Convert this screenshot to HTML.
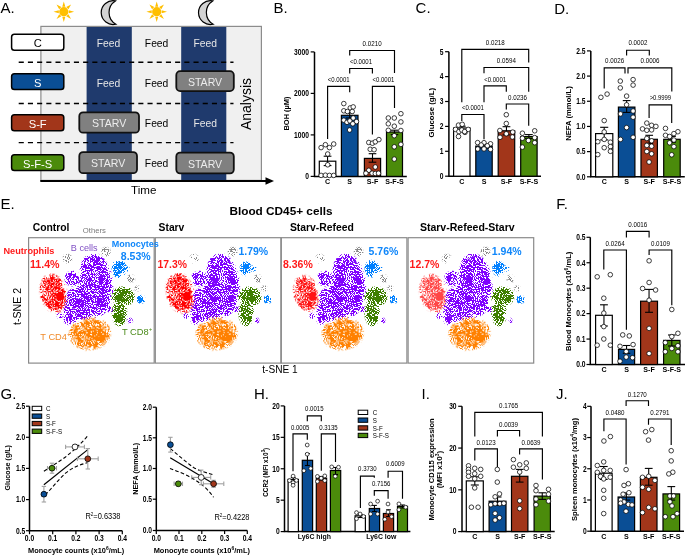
<!DOCTYPE html>
<html><head><meta charset="utf-8"><title>Figure</title>
<style>html,body{margin:0;padding:0;background:#fff;}svg{display:block;will-change:transform;}text{font-family:"Liberation Sans", sans-serif;}</style>
</head><body>
<svg width="685" height="555" viewBox="0 0 685 555" font-family='"Liberation Sans", sans-serif'>
<rect width="685" height="555" fill="#fff"/>
<text x="0.5" y="13.4" font-size="15">A.</text>
<g fill="#ffbf00">
<circle cx="63.8" cy="11.7" r="4.6"/>
<path d="M62.26 6.73L63.8 1.4L65.34 6.73ZM66.23 7.1L71.08 4.42L68.4 9.27ZM68.77 10.16L74.1 11.7L68.77 13.24ZM68.4 14.13L71.08 18.98L66.23 16.3ZM65.34 16.67L63.8 22L62.26 16.67ZM61.37 16.3L56.52 18.98L59.2 14.13ZM58.83 13.24L53.5 11.7L58.83 10.16ZM59.2 9.27L56.52 4.42L61.37 7.1Z"/>
</g>
<g fill="#ffbf00">
<circle cx="156.7" cy="11.7" r="4.6"/>
<path d="M155.16 6.73L156.7 1.4L158.24 6.73ZM159.13 7.1L163.98 4.42L161.3 9.27ZM161.67 10.16L167 11.7L161.67 13.24ZM161.3 14.13L163.98 18.98L159.13 16.3ZM158.24 16.67L156.7 22L155.16 16.67ZM154.27 16.3L149.42 18.98L152.1 14.13ZM151.73 13.24L146.4 11.7L151.73 10.16ZM152.1 9.27L149.42 4.42L154.27 7.1Z"/>
</g>
<path d="M115.4 0.9A11.92 11.92 0 1 0 115.9 24.2A13.6 13.6 0 0 1 115.4 0.9Z" fill="#d2d2d2" stroke="#000" stroke-width="1.2" stroke-linejoin="miter" stroke-miterlimit="3"/>
<path d="M212.7 0.9A11.92 11.92 0 1 0 213.2 24.2A13.6 13.6 0 0 1 212.7 0.9Z" fill="#d2d2d2" stroke="#000" stroke-width="1.2" stroke-linejoin="miter" stroke-miterlimit="3"/>
<rect x="40.9" y="26.4" width="220.5" height="154" fill="#f0f0f0" stroke="#8c8c8c" stroke-width="1.2"/>
<rect x="86.6" y="27" width="45.2" height="153" fill="#1f3a6d"/>
<rect x="181.2" y="27" width="45.1" height="153" fill="#1f3a6d"/>
<line x1="18.7" y1="62.3" x2="233.5" y2="62.3" stroke="#000" stroke-width="1.4" stroke-dasharray="5.1 4.1"/>
<line x1="18.7" y1="103.5" x2="233.5" y2="103.5" stroke="#000" stroke-width="1.4" stroke-dasharray="5.1 4.1"/>
<line x1="18.7" y1="142.6" x2="233.5" y2="142.6" stroke="#000" stroke-width="1.4" stroke-dasharray="5.1 4.1"/>
<rect x="11.6" y="34.3" width="52.2" height="15.9" fill="#fff" rx="2.8" stroke="#000" stroke-width="1.5"/>
<text x="37.7" y="47.15" font-size="11.2" text-anchor="middle">C</text>
<rect x="11.6" y="73.7" width="52.2" height="15.8" fill="#0a4e95" rx="2.8" stroke="#000" stroke-width="1.5"/>
<text x="37.7" y="86.5" font-size="11.2" text-anchor="middle" fill="#fff">S</text>
<rect x="11.6" y="114.7" width="52.2" height="16" fill="#a2361a" rx="2.8" stroke="#000" stroke-width="1.5"/>
<text x="37.7" y="127.6" font-size="11.2" text-anchor="middle" fill="#fff">S-F</text>
<rect x="11.6" y="154.8" width="52.2" height="15.7" fill="#4b8b0b" rx="2.8" stroke="#000" stroke-width="1.5"/>
<text x="37.7" y="167.55" font-size="11.2" text-anchor="middle" fill="#fff">S-F-S</text>
<rect x="176.3" y="71.2" width="57.5" height="19.9" fill="#808080" rx="3.8" stroke="#111" stroke-width="1.8"/>
<text x="205.05" y="85.75" font-size="11" text-anchor="middle" fill="#ececec" textLength="34.3" lengthAdjust="spacingAndGlyphs">STARV</text>
<rect x="79.3" y="112.3" width="59.7" height="20.4" fill="#808080" rx="3.8" stroke="#111" stroke-width="1.8"/>
<text x="109.15" y="127.1" font-size="11" text-anchor="middle" fill="#ececec" textLength="34.3" lengthAdjust="spacingAndGlyphs">STARV</text>
<rect x="79.3" y="152.1" width="57.7" height="21.1" fill="#808080" rx="3.8" stroke="#111" stroke-width="1.8"/>
<text x="108.15" y="167.25" font-size="11" text-anchor="middle" fill="#ececec" textLength="34.3" lengthAdjust="spacingAndGlyphs">STARV</text>
<rect x="176.3" y="152.6" width="57.5" height="20.8" fill="#808080" rx="3.8" stroke="#111" stroke-width="1.8"/>
<text x="205.05" y="167.6" font-size="11" text-anchor="middle" fill="#ececec" textLength="34.3" lengthAdjust="spacingAndGlyphs">STARV</text>
<text x="108.4" y="47.3" font-size="10.3" text-anchor="middle" fill="#e6e6e6">Feed</text>
<text x="156.6" y="47.3" font-size="10.3" text-anchor="middle">Feed</text>
<text x="205.3" y="46.8" font-size="10.3" text-anchor="middle" fill="#e6e6e6">Feed</text>
<text x="108.4" y="87.2" font-size="10.3" text-anchor="middle" fill="#e6e6e6">Feed</text>
<text x="156.6" y="87.2" font-size="10.3" text-anchor="middle">Feed</text>
<text x="156.6" y="127" font-size="10.3" text-anchor="middle">Feed</text>
<text x="205.3" y="126.5" font-size="10.3" text-anchor="middle" fill="#e6e6e6">Feed</text>
<text x="156.6" y="167.3" font-size="10.3" text-anchor="middle">Feed</text>
<text x="251.2" y="104" font-size="14" text-anchor="middle" transform="rotate(-90 251.2 104)">Analysis</text>
<line x1="40.3" y1="181" x2="266.5" y2="181" stroke="#000" stroke-width="2"/>
<path d="M265.5 177.3L274 181L265.5 184.7Z" fill="#000" stroke="none" stroke-width="1"/>
<text x="143.7" y="193.6" font-size="11.6" text-anchor="middle" textLength="25.4" lengthAdjust="spacingAndGlyphs">Time</text>
<text x="273.6" y="13.2" font-size="15">B.</text>
<path d="M314.5 51.9V176.4H406.8" fill="none" stroke="#000" stroke-width="1.5" stroke-linejoin="miter"/>
<line x1="310.7" y1="176.4" x2="314.5" y2="176.4" stroke="#000" stroke-width="1.2"/>
<text x="308.9" y="179.2" font-size="8.3" text-anchor="end" font-weight="bold" textLength="3.73" lengthAdjust="spacingAndGlyphs">0</text>
<line x1="310.7" y1="134.9" x2="314.5" y2="134.9" stroke="#000" stroke-width="1.2"/>
<text x="308.9" y="137.7" font-size="8.3" text-anchor="end" font-weight="bold" textLength="14.91" lengthAdjust="spacingAndGlyphs">1000</text>
<line x1="310.7" y1="93.4" x2="314.5" y2="93.4" stroke="#000" stroke-width="1.2"/>
<text x="308.9" y="96.2" font-size="8.3" text-anchor="end" font-weight="bold" textLength="14.91" lengthAdjust="spacingAndGlyphs">2000</text>
<line x1="310.7" y1="51.9" x2="314.5" y2="51.9" stroke="#000" stroke-width="1.2"/>
<text x="308.9" y="54.7" font-size="8.3" text-anchor="end" font-weight="bold" textLength="14.91" lengthAdjust="spacingAndGlyphs">3000</text>
<rect x="319.3" y="161.2" width="16.5" height="15.2" fill="#fff" stroke="#000" stroke-width="1.2"/>
<line x1="327.55" y1="156.2" x2="327.55" y2="165.6" stroke="#000" stroke-width="1.1"/>
<line x1="323.67" y1="156.2" x2="331.43" y2="156.2" stroke="#000" stroke-width="1.1"/>
<line x1="323.67" y1="165.6" x2="331.43" y2="165.6" stroke="#000" stroke-width="1.1"/>
<g fill="#fff" stroke="#000" stroke-width="0.75">
<circle cx="321.1" cy="147.6" r="2.3"/>
<circle cx="325.4" cy="144.7" r="2.3"/>
<circle cx="329.4" cy="147.6" r="2.3"/>
<circle cx="333.7" cy="144" r="2.3"/>
<circle cx="327.7" cy="154" r="2.3"/>
<circle cx="327.7" cy="164.8" r="2.3"/>
<circle cx="321.1" cy="175.4" r="2.3"/>
<circle cx="325.4" cy="175.2" r="2.3"/>
<circle cx="329.4" cy="175.4" r="2.3"/>
<circle cx="333.7" cy="175.4" r="2.3"/>
</g>
<text x="327.55" y="183.7" font-size="7.1" text-anchor="middle" font-weight="bold">C</text>
<rect x="341.4" y="115.3" width="16.6" height="61.1" fill="#0a4e95" stroke="#000" stroke-width="1.2"/>
<line x1="349.7" y1="112.7" x2="349.7" y2="118" stroke="#000" stroke-width="1.1"/>
<line x1="345.8" y1="112.7" x2="353.6" y2="112.7" stroke="#000" stroke-width="1.1"/>
<line x1="345.8" y1="118" x2="353.6" y2="118" stroke="#000" stroke-width="1.1"/>
<g fill="#fff" stroke="#000" stroke-width="0.75">
<circle cx="343.8" cy="103.6" r="2.3"/>
<circle cx="350.3" cy="107.9" r="2.3"/>
<circle cx="353.2" cy="106.9" r="2.3"/>
<circle cx="343.8" cy="110.8" r="2.3"/>
<circle cx="347.4" cy="111.5" r="2.3"/>
<circle cx="352.2" cy="111.5" r="2.3"/>
<circle cx="343.8" cy="120.2" r="2.3"/>
<circle cx="347" cy="122.3" r="2.3"/>
<circle cx="349.9" cy="120.9" r="2.3"/>
<circle cx="353.2" cy="118" r="2.3"/>
<circle cx="356.5" cy="121.6" r="2.3"/>
<circle cx="352.8" cy="123.8" r="2.3"/>
<circle cx="349.6" cy="130" r="2.3"/>
</g>
<text x="349.7" y="183.7" font-size="7.1" text-anchor="middle" font-weight="bold">S</text>
<rect x="364.4" y="158.4" width="16.2" height="18" fill="#a2361a" stroke="#000" stroke-width="1.2"/>
<line x1="372.5" y1="153.7" x2="372.5" y2="162.2" stroke="#000" stroke-width="1.1"/>
<line x1="368.69" y1="153.7" x2="376.31" y2="153.7" stroke="#000" stroke-width="1.1"/>
<line x1="368.69" y1="162.2" x2="376.31" y2="162.2" stroke="#000" stroke-width="1.1"/>
<g fill="#fff" stroke="#000" stroke-width="0.75">
<circle cx="368.8" cy="142.5" r="2.3"/>
<circle cx="372.4" cy="143.2" r="2.3"/>
<circle cx="375.3" cy="141.8" r="2.3"/>
<circle cx="378.9" cy="139.6" r="2.3"/>
<circle cx="370.2" cy="149.3" r="2.3"/>
<circle cx="374.1" cy="149.7" r="2.3"/>
<circle cx="375.3" cy="167" r="2.3"/>
<circle cx="368.8" cy="170.3" r="2.3"/>
<circle cx="365.9" cy="173.2" r="2.3"/>
<circle cx="372.1" cy="173.2" r="2.3"/>
<circle cx="375.3" cy="173.5" r="2.3"/>
<circle cx="378.5" cy="173.2" r="2.3"/>
</g>
<text x="372.5" y="183.7" font-size="7.1" text-anchor="middle" font-weight="bold">S-F</text>
<rect x="386.5" y="132" width="16" height="44.4" fill="#4b8b0b" stroke="#000" stroke-width="1.2"/>
<line x1="394.5" y1="130.2" x2="394.5" y2="134.6" stroke="#000" stroke-width="1.1"/>
<line x1="390.74" y1="130.2" x2="398.26" y2="130.2" stroke="#000" stroke-width="1.1"/>
<line x1="390.74" y1="134.6" x2="398.26" y2="134.6" stroke="#000" stroke-width="1.1"/>
<g fill="#fff" stroke="#000" stroke-width="0.75">
<circle cx="400.9" cy="113.7" r="2.3"/>
<circle cx="388.3" cy="118" r="2.3"/>
<circle cx="394.3" cy="118" r="2.3"/>
<circle cx="400.9" cy="121.9" r="2.3"/>
<circle cx="388.3" cy="123.8" r="2.3"/>
<circle cx="394.3" cy="126.2" r="2.3"/>
<circle cx="388.3" cy="130.3" r="2.3"/>
<circle cx="400.9" cy="130.5" r="2.3"/>
<circle cx="394.3" cy="135.7" r="2.3"/>
<circle cx="400.9" cy="144.4" r="2.3"/>
<circle cx="394.3" cy="146.8" r="2.3"/>
<circle cx="394.3" cy="159.1" r="2.3"/>
</g>
<text x="394.5" y="183.7" font-size="7.1" text-anchor="middle" font-weight="bold">S-F-S</text>
<text x="289" y="113.5" font-size="7.5" text-anchor="middle" font-weight="bold" textLength="34" lengthAdjust="spacingAndGlyphs" transform="rotate(-90 289 113.5)">BOH (µM)</text>
<path d="M327.6 138.9V86.4H349.7V92.2" fill="none" stroke="#000" stroke-width="1.15" stroke-linejoin="miter"/>
<text x="338.65" y="82" font-size="7.1" text-anchor="middle" textLength="21.9" lengthAdjust="spacingAndGlyphs">&lt;0.0001</text>
<path d="M349.7 73.4V68.5H372.4V73.4" fill="none" stroke="#000" stroke-width="1.15" stroke-linejoin="miter"/>
<text x="361.05" y="63.8" font-size="7.1" text-anchor="middle" textLength="21.9" lengthAdjust="spacingAndGlyphs">&lt;0.0001</text>
<path d="M349.7 55.4V50.5H394.5V72.9" fill="none" stroke="#000" stroke-width="1.15" stroke-linejoin="miter"/>
<text x="372.1" y="45.6" font-size="7.1" text-anchor="middle" textLength="19" lengthAdjust="spacingAndGlyphs">0.0210</text>
<path d="M372.4 134.6V86.4H394.5V107.9" fill="none" stroke="#000" stroke-width="1.15" stroke-linejoin="miter"/>
<text x="383.45" y="82" font-size="7.1" text-anchor="middle" textLength="21.9" lengthAdjust="spacingAndGlyphs">&lt;0.0001</text>
<text x="415.6" y="13.4" font-size="15">C.</text>
<path d="M448.9 51.7V176.2H541" fill="none" stroke="#000" stroke-width="1.5" stroke-linejoin="miter"/>
<line x1="445.1" y1="176.2" x2="448.9" y2="176.2" stroke="#000" stroke-width="1.2"/>
<text x="443.6" y="179" font-size="8.3" text-anchor="end" font-weight="bold" textLength="3.73" lengthAdjust="spacingAndGlyphs">0</text>
<line x1="445.1" y1="151.3" x2="448.9" y2="151.3" stroke="#000" stroke-width="1.2"/>
<text x="443.6" y="154.1" font-size="8.3" text-anchor="end" font-weight="bold" textLength="3.73" lengthAdjust="spacingAndGlyphs">1</text>
<line x1="445.1" y1="126.4" x2="448.9" y2="126.4" stroke="#000" stroke-width="1.2"/>
<text x="443.6" y="129.2" font-size="8.3" text-anchor="end" font-weight="bold" textLength="3.73" lengthAdjust="spacingAndGlyphs">2</text>
<line x1="445.1" y1="101.5" x2="448.9" y2="101.5" stroke="#000" stroke-width="1.2"/>
<text x="443.6" y="104.3" font-size="8.3" text-anchor="end" font-weight="bold" textLength="3.73" lengthAdjust="spacingAndGlyphs">3</text>
<line x1="445.1" y1="76.6" x2="448.9" y2="76.6" stroke="#000" stroke-width="1.2"/>
<text x="443.6" y="79.4" font-size="8.3" text-anchor="end" font-weight="bold" textLength="3.73" lengthAdjust="spacingAndGlyphs">4</text>
<line x1="445.1" y1="51.7" x2="448.9" y2="51.7" stroke="#000" stroke-width="1.2"/>
<text x="443.6" y="54.5" font-size="8.3" text-anchor="end" font-weight="bold" textLength="3.73" lengthAdjust="spacingAndGlyphs">5</text>
<rect x="453.6" y="128" width="16.4" height="48.2" fill="#fff" stroke="#000" stroke-width="1.2"/>
<line x1="461.8" y1="126.2" x2="461.8" y2="130" stroke="#000" stroke-width="1.1"/>
<line x1="457.95" y1="126.2" x2="465.65" y2="126.2" stroke="#000" stroke-width="1.1"/>
<line x1="457.95" y1="130" x2="465.65" y2="130" stroke="#000" stroke-width="1.1"/>
<g fill="#fff" stroke="#000" stroke-width="0.75">
<circle cx="458.5" cy="125.1" r="2.3"/>
<circle cx="462.2" cy="124.3" r="2.3"/>
<circle cx="455.5" cy="129.4" r="2.3"/>
<circle cx="458.9" cy="131.6" r="2.3"/>
<circle cx="461.8" cy="130" r="2.3"/>
<circle cx="465" cy="132.4" r="2.3"/>
<circle cx="468.2" cy="129.4" r="2.3"/>
<circle cx="458.5" cy="136.5" r="2.3"/>
<circle cx="464.6" cy="131.6" r="2.3"/>
</g>
<text x="461.8" y="183.5" font-size="7.1" text-anchor="middle" font-weight="bold">C</text>
<rect x="475.8" y="146.1" width="16.4" height="30.1" fill="#0a4e95" stroke="#000" stroke-width="1.2"/>
<line x1="484" y1="144.3" x2="484" y2="148" stroke="#000" stroke-width="1.1"/>
<line x1="480.15" y1="144.3" x2="487.85" y2="144.3" stroke="#000" stroke-width="1.1"/>
<line x1="480.15" y1="148" x2="487.85" y2="148" stroke="#000" stroke-width="1.1"/>
<g fill="#fff" stroke="#000" stroke-width="0.75">
<circle cx="477.6" cy="142.6" r="2.3"/>
<circle cx="484" cy="142.7" r="2.3"/>
<circle cx="490.5" cy="143.8" r="2.3"/>
<circle cx="481.2" cy="145" r="2.3"/>
<circle cx="487.3" cy="145.8" r="2.3"/>
<circle cx="477.7" cy="149" r="2.3"/>
<circle cx="484" cy="148.9" r="2.3"/>
<circle cx="490.5" cy="149.4" r="2.3"/>
</g>
<text x="484" y="183.5" font-size="7.1" text-anchor="middle" font-weight="bold">S</text>
<rect x="498.2" y="130.8" width="16.5" height="45.4" fill="#a2361a" stroke="#000" stroke-width="1.2"/>
<line x1="506.45" y1="126.7" x2="506.45" y2="134.9" stroke="#000" stroke-width="1.1"/>
<line x1="502.57" y1="126.7" x2="510.33" y2="126.7" stroke="#000" stroke-width="1.1"/>
<line x1="502.57" y1="134.9" x2="510.33" y2="134.9" stroke="#000" stroke-width="1.1"/>
<g fill="#fff" stroke="#000" stroke-width="0.75">
<circle cx="506.3" cy="114.7" r="2.3"/>
<circle cx="506.3" cy="123.5" r="2.3"/>
<circle cx="499.9" cy="130.5" r="2.3"/>
<circle cx="506.3" cy="133.8" r="2.3"/>
<circle cx="512.7" cy="132.1" r="2.3"/>
<circle cx="500" cy="137.3" r="2.3"/>
<circle cx="512.4" cy="137" r="2.3"/>
</g>
<text x="506.45" y="183.5" font-size="7.1" text-anchor="middle" font-weight="bold">S-F</text>
<rect x="520.7" y="136.6" width="16.4" height="39.6" fill="#4b8b0b" stroke="#000" stroke-width="1.2"/>
<line x1="528.9" y1="134.6" x2="528.9" y2="138.6" stroke="#000" stroke-width="1.1"/>
<line x1="525.05" y1="134.6" x2="532.75" y2="134.6" stroke="#000" stroke-width="1.1"/>
<line x1="525.05" y1="138.6" x2="532.75" y2="138.6" stroke="#000" stroke-width="1.1"/>
<g fill="#fff" stroke="#000" stroke-width="0.75">
<circle cx="534.7" cy="130.8" r="2.3"/>
<circle cx="522.4" cy="133.2" r="2.3"/>
<circle cx="522.4" cy="138.2" r="2.3"/>
<circle cx="534.7" cy="137.6" r="2.3"/>
<circle cx="528.4" cy="140.5" r="2.3"/>
<circle cx="534.7" cy="142.7" r="2.3"/>
<circle cx="522.4" cy="147.1" r="2.3"/>
</g>
<text x="528.9" y="183.5" font-size="7.1" text-anchor="middle" font-weight="bold">S-F-S</text>
<text x="434" y="112.7" font-size="7.5" text-anchor="middle" font-weight="bold" textLength="49.5" lengthAdjust="spacingAndGlyphs" transform="rotate(-90 434 112.7)">Glucose (g/L)</text>
<path d="M461.8 102.2V49.3H528.7V62.4" fill="none" stroke="#000" stroke-width="1.15" stroke-linejoin="miter"/>
<text x="495.25" y="45.2" font-size="7.1" text-anchor="middle" textLength="19" lengthAdjust="spacingAndGlyphs">0.0218</text>
<path d="M484 73.3V67.5H528.7V91.7" fill="none" stroke="#000" stroke-width="1.15" stroke-linejoin="miter"/>
<text x="506.35" y="63.4" font-size="7.1" text-anchor="middle" textLength="19" lengthAdjust="spacingAndGlyphs">0.0594</text>
<path d="M484 102.2V85.9H506.3V91.7" fill="none" stroke="#000" stroke-width="1.15" stroke-linejoin="miter"/>
<text x="495.15" y="81.6" font-size="7.1" text-anchor="middle" textLength="21.9" lengthAdjust="spacingAndGlyphs">&lt;0.0001</text>
<path d="M506.3 109.5V104H528.7V125.7" fill="none" stroke="#000" stroke-width="1.15" stroke-linejoin="miter"/>
<text x="517.5" y="99.6" font-size="7.1" text-anchor="middle" textLength="19" lengthAdjust="spacingAndGlyphs">0.0236</text>
<path d="M461.8 121V114.5H484V139.3" fill="none" stroke="#000" stroke-width="1.15" stroke-linejoin="miter"/>
<text x="472.9" y="110.4" font-size="7.1" text-anchor="middle" textLength="21.9" lengthAdjust="spacingAndGlyphs">&lt;0.0001</text>
<text x="554.2" y="13.5" font-size="15">D.</text>
<path d="M590.8 50.9V176.8H684.8" fill="none" stroke="#000" stroke-width="1.5" stroke-linejoin="miter"/>
<line x1="587" y1="176.8" x2="590.8" y2="176.8" stroke="#000" stroke-width="1.2"/>
<text x="585.6" y="179.6" font-size="8.3" text-anchor="end" font-weight="bold" textLength="9.31" lengthAdjust="spacingAndGlyphs">0.0</text>
<line x1="587" y1="151.62" x2="590.8" y2="151.62" stroke="#000" stroke-width="1.2"/>
<text x="585.6" y="154.42" font-size="8.3" text-anchor="end" font-weight="bold" textLength="9.31" lengthAdjust="spacingAndGlyphs">0.5</text>
<line x1="587" y1="126.44" x2="590.8" y2="126.44" stroke="#000" stroke-width="1.2"/>
<text x="585.6" y="129.24" font-size="8.3" text-anchor="end" font-weight="bold" textLength="9.31" lengthAdjust="spacingAndGlyphs">1.0</text>
<line x1="587" y1="101.26" x2="590.8" y2="101.26" stroke="#000" stroke-width="1.2"/>
<text x="585.6" y="104.06" font-size="8.3" text-anchor="end" font-weight="bold" textLength="9.31" lengthAdjust="spacingAndGlyphs">1.5</text>
<line x1="587" y1="76.08" x2="590.8" y2="76.08" stroke="#000" stroke-width="1.2"/>
<text x="585.6" y="78.88" font-size="8.3" text-anchor="end" font-weight="bold" textLength="9.31" lengthAdjust="spacingAndGlyphs">2.0</text>
<line x1="587" y1="50.9" x2="590.8" y2="50.9" stroke="#000" stroke-width="1.2"/>
<text x="585.6" y="53.7" font-size="8.3" text-anchor="end" font-weight="bold" textLength="9.31" lengthAdjust="spacingAndGlyphs">2.5</text>
<rect x="595.6" y="133.6" width="17.2" height="43.2" fill="#fff" stroke="#000" stroke-width="1.2"/>
<line x1="604.2" y1="127.3" x2="604.2" y2="139.9" stroke="#000" stroke-width="1.1"/>
<line x1="600.16" y1="127.3" x2="608.24" y2="127.3" stroke="#000" stroke-width="1.1"/>
<line x1="600.16" y1="139.9" x2="608.24" y2="139.9" stroke="#000" stroke-width="1.1"/>
<g fill="#fff" stroke="#000" stroke-width="0.75">
<circle cx="600.9" cy="97.3" r="2.3"/>
<circle cx="607.1" cy="94.1" r="2.3"/>
<circle cx="604.2" cy="120.6" r="2.3"/>
<circle cx="604.2" cy="131.9" r="2.3"/>
<circle cx="597.8" cy="141.7" r="2.3"/>
<circle cx="604.2" cy="139.4" r="2.3"/>
<circle cx="610.4" cy="142.2" r="2.3"/>
<circle cx="604.2" cy="147.7" r="2.3"/>
<circle cx="610.4" cy="146.6" r="2.3"/>
<circle cx="610.4" cy="151.3" r="2.3"/>
<circle cx="597.8" cy="154.6" r="2.3"/>
</g>
<text x="604.2" y="183.7" font-size="7.1" text-anchor="middle" font-weight="bold">C</text>
<rect x="618.4" y="107.1" width="16.5" height="69.7" fill="#0a4e95" stroke="#000" stroke-width="1.2"/>
<line x1="626.65" y1="100.6" x2="626.65" y2="112.4" stroke="#000" stroke-width="1.1"/>
<line x1="622.77" y1="100.6" x2="630.53" y2="100.6" stroke="#000" stroke-width="1.1"/>
<line x1="622.77" y1="112.4" x2="630.53" y2="112.4" stroke="#000" stroke-width="1.1"/>
<g fill="#fff" stroke="#000" stroke-width="0.75">
<circle cx="620.3" cy="81.1" r="2.3"/>
<circle cx="620.3" cy="87.9" r="2.3"/>
<circle cx="633.1" cy="79.6" r="2.3"/>
<circle cx="633.1" cy="85.1" r="2.3"/>
<circle cx="626.6" cy="96.1" r="2.3"/>
<circle cx="626.6" cy="104.8" r="2.3"/>
<circle cx="633.1" cy="111" r="2.3"/>
<circle cx="620.5" cy="113.9" r="2.3"/>
<circle cx="633.1" cy="117.2" r="2.3"/>
<circle cx="626.6" cy="127.6" r="2.3"/>
<circle cx="620.5" cy="139.4" r="2.3"/>
<circle cx="633.1" cy="137.3" r="2.3"/>
</g>
<text x="626.65" y="183.7" font-size="7.1" text-anchor="middle" font-weight="bold">S</text>
<rect x="641" y="139.3" width="16.4" height="37.5" fill="#a2361a" stroke="#000" stroke-width="1.2"/>
<line x1="649.2" y1="135.3" x2="649.2" y2="143.3" stroke="#000" stroke-width="1.1"/>
<line x1="645.35" y1="135.3" x2="653.05" y2="135.3" stroke="#000" stroke-width="1.1"/>
<line x1="645.35" y1="143.3" x2="653.05" y2="143.3" stroke="#000" stroke-width="1.1"/>
<g fill="#fff" stroke="#000" stroke-width="0.75">
<circle cx="646.8" cy="123.1" r="2.3"/>
<circle cx="651.6" cy="125.3" r="2.3"/>
<circle cx="655.9" cy="126.4" r="2.3"/>
<circle cx="642.5" cy="128.9" r="2.3"/>
<circle cx="646.8" cy="130.3" r="2.3"/>
<circle cx="651.6" cy="129.9" r="2.3"/>
<circle cx="646.8" cy="138.5" r="2.3"/>
<circle cx="651.6" cy="140.8" r="2.3"/>
<circle cx="646.8" cy="145.4" r="2.3"/>
<circle cx="651.6" cy="146.2" r="2.3"/>
<circle cx="646.8" cy="151.5" r="2.3"/>
<circle cx="651.6" cy="153.8" r="2.3"/>
<circle cx="649.1" cy="162" r="2.3"/>
</g>
<text x="649.2" y="183.7" font-size="7.1" text-anchor="middle" font-weight="bold">S-F</text>
<rect x="663.7" y="139.3" width="16.5" height="37.5" fill="#4b8b0b" stroke="#000" stroke-width="1.2"/>
<line x1="671.95" y1="136.4" x2="671.95" y2="142.2" stroke="#000" stroke-width="1.1"/>
<line x1="668.07" y1="136.4" x2="675.83" y2="136.4" stroke="#000" stroke-width="1.1"/>
<line x1="668.07" y1="142.2" x2="675.83" y2="142.2" stroke="#000" stroke-width="1.1"/>
<g fill="#fff" stroke="#000" stroke-width="0.75">
<circle cx="665.5" cy="128.4" r="2.3"/>
<circle cx="677.9" cy="131.7" r="2.3"/>
<circle cx="673.9" cy="133.6" r="2.3"/>
<circle cx="665.5" cy="135.3" r="2.3"/>
<circle cx="669.6" cy="136.5" r="2.3"/>
<circle cx="673.9" cy="140" r="2.3"/>
<circle cx="669.6" cy="142.8" r="2.3"/>
<circle cx="673.9" cy="146.6" r="2.3"/>
<circle cx="671.7" cy="154.8" r="2.3"/>
</g>
<text x="671.95" y="183.7" font-size="7.1" text-anchor="middle" font-weight="bold">S-F-S</text>
<text x="571.2" y="113.5" font-size="7.5" text-anchor="middle" font-weight="bold" textLength="54.7" lengthAdjust="spacingAndGlyphs" transform="rotate(-90 571.2 113.5)">NEFA (mmol/L)</text>
<path d="M626.6 55.4V50.2H649.3V55.4" fill="none" stroke="#000" stroke-width="1.15" stroke-linejoin="miter"/>
<text x="637.95" y="45.3" font-size="7.1" text-anchor="middle" textLength="19" lengthAdjust="spacingAndGlyphs">0.0002</text>
<path d="M604.2 88.6V67.9H625V73.5" fill="none" stroke="#000" stroke-width="1.15" stroke-linejoin="miter"/>
<text x="614.6" y="63.4" font-size="7.1" text-anchor="middle" textLength="19" lengthAdjust="spacingAndGlyphs">0.0026</text>
<path d="M628 73.5V67.9H671.8V91.6" fill="none" stroke="#000" stroke-width="1.15" stroke-linejoin="miter"/>
<text x="650" y="63.4" font-size="7.1" text-anchor="middle" textLength="19" lengthAdjust="spacingAndGlyphs">0.0006</text>
<path d="M649.1 118V104.8H671.7V123.1" fill="none" stroke="#000" stroke-width="1.15" stroke-linejoin="miter"/>
<text x="660.4" y="99.8" font-size="7.1" text-anchor="middle" textLength="21.5" lengthAdjust="spacingAndGlyphs">&gt;0.9999</text>
<text x="0.5" y="208.8" font-size="15">E.</text>
<text x="281" y="214.8" font-size="10.6" text-anchor="middle" font-weight="bold" textLength="103.2" lengthAdjust="spacingAndGlyphs">Blood CD45+ cells</text>
<text x="32.7" y="231.3" font-size="10.3" font-weight="bold" textLength="36.8" lengthAdjust="spacingAndGlyphs">Control</text>
<text x="158.6" y="231.3" font-size="10.3" font-weight="bold">Starv</text>
<text x="289.9" y="231.3" font-size="10.3" font-weight="bold" textLength="64" lengthAdjust="spacingAndGlyphs">Starv-Refeed</text>
<text x="419.9" y="231.3" font-size="10.3" font-weight="bold" textLength="94.8" lengthAdjust="spacingAndGlyphs">Starv-Refeed-Starv</text>
<text x="82.8" y="233" font-size="7.4" fill="#7a7a7a" textLength="23.1" lengthAdjust="spacingAndGlyphs">Others</text>
<rect x="28.6" y="237.7" width="125.6" height="125.4" fill="none" stroke="#8a8a8a" stroke-width="1.2"/>
<rect x="155.3" y="237.7" width="125.6" height="125.4" fill="none" stroke="#8a8a8a" stroke-width="1.2"/>
<rect x="281.3" y="237.7" width="125.6" height="125.4" fill="none" stroke="#8a8a8a" stroke-width="1.2"/>
<rect x="408.1" y="237.7" width="125.6" height="125.4" fill="none" stroke="#8a8a8a" stroke-width="1.2"/>
<text x="21.4" y="306.4" font-size="10.4" text-anchor="middle" textLength="37" lengthAdjust="spacingAndGlyphs" transform="rotate(-90 21.4 306.4)">t-SNE 2</text>
<text x="280" y="373" font-size="10.4" text-anchor="middle" textLength="35.5" lengthAdjust="spacingAndGlyphs">t-SNE 1</text>
<defs>
<filter id="fr" x="-30%" y="-30%" width="160%" height="160%" color-interpolation-filters="sRGB"><feGaussianBlur in="SourceAlpha" stdDeviation="1.4" result="b"/><feTurbulence type="fractalNoise" baseFrequency="0.95" numOctaves="1" seed="7" result="n1"/><feColorMatrix in="n1" type="matrix" values="0 0 0 0 0 0 0 0 0 0 0 0 0 0 0 1 0 0 0 0" result="a1"/><feTurbulence type="fractalNoise" baseFrequency="0.14" numOctaves="2" seed="42" result="n2"/><feColorMatrix in="n2" type="matrix" values="0 0 0 0 0 0 0 0 0 0 0 0 0 0 0 1 0 0 0 0" result="a2"/><feComposite in="a1" in2="a2" operator="arithmetic" k2="2.4" k3="0.6" k4="-1.35" result="na"/><feComposite in="b" in2="na" operator="arithmetic" k2="0.37" k3="-1" result="d"/><feComponentTransfer in="d" result="m"><feFuncA type="linear" slope="30"/></feComponentTransfer><feFlood flood-color="#ff0000"/><feComposite in2="m" operator="in"/></filter>
<filter id="fp" x="-30%" y="-30%" width="160%" height="160%" color-interpolation-filters="sRGB"><feGaussianBlur in="SourceAlpha" stdDeviation="1.1" result="b"/><feTurbulence type="fractalNoise" baseFrequency="0.95" numOctaves="1" seed="5" result="n1"/><feColorMatrix in="n1" type="matrix" values="0 0 0 0 0 0 0 0 0 0 0 0 0 0 0 1 0 0 0 0" result="a1"/><feTurbulence type="fractalNoise" baseFrequency="0.14" numOctaves="2" seed="40" result="n2"/><feColorMatrix in="n2" type="matrix" values="0 0 0 0 0 0 0 0 0 0 0 0 0 0 0 1 0 0 0 0" result="a2"/><feComposite in="a1" in2="a2" operator="arithmetic" k2="2.4" k3="0.6" k4="-1.35" result="na"/><feComposite in="b" in2="na" operator="arithmetic" k2="0.31" k3="-1" result="d"/><feComponentTransfer in="d" result="m"><feFuncA type="linear" slope="30"/></feComponentTransfer><feFlood flood-color="#7f00ff"/><feComposite in2="m" operator="in"/></filter>
<filter id="fo" x="-30%" y="-30%" width="160%" height="160%" color-interpolation-filters="sRGB"><feGaussianBlur in="SourceAlpha" stdDeviation="1.4" result="b"/><feTurbulence type="fractalNoise" baseFrequency="0.95" numOctaves="1" seed="4" result="n1"/><feColorMatrix in="n1" type="matrix" values="0 0 0 0 0 0 0 0 0 0 0 0 0 0 0 1 0 0 0 0" result="a1"/><feTurbulence type="fractalNoise" baseFrequency="0.14" numOctaves="2" seed="46" result="n2"/><feColorMatrix in="n2" type="matrix" values="0 0 0 0 0 0 0 0 0 0 0 0 0 0 0 1 0 0 0 0" result="a2"/><feComposite in="a1" in2="a2" operator="arithmetic" k2="2.4" k3="0.6" k4="-1.35" result="na"/><feComposite in="b" in2="na" operator="arithmetic" k2="0.36" k3="-1" result="d"/><feComponentTransfer in="d" result="m"><feFuncA type="linear" slope="30"/></feComponentTransfer><feFlood flood-color="#ff8000"/><feComposite in2="m" operator="in"/></filter>
<filter id="fg" x="-30%" y="-30%" width="160%" height="160%" color-interpolation-filters="sRGB"><feGaussianBlur in="SourceAlpha" stdDeviation="1.3" result="b"/><feTurbulence type="fractalNoise" baseFrequency="0.95" numOctaves="1" seed="7" result="n1"/><feColorMatrix in="n1" type="matrix" values="0 0 0 0 0 0 0 0 0 0 0 0 0 0 0 1 0 0 0 0" result="a1"/><feTurbulence type="fractalNoise" baseFrequency="0.14" numOctaves="2" seed="45" result="n2"/><feColorMatrix in="n2" type="matrix" values="0 0 0 0 0 0 0 0 0 0 0 0 0 0 0 1 0 0 0 0" result="a2"/><feComposite in="a1" in2="a2" operator="arithmetic" k2="2.4" k3="0.6" k4="-1.35" result="na"/><feComposite in="b" in2="na" operator="arithmetic" k2="0.34" k3="-1" result="d"/><feComponentTransfer in="d" result="m"><feFuncA type="linear" slope="30"/></feComponentTransfer><feFlood flood-color="#3f7f00"/><feComposite in2="m" operator="in"/></filter>
<filter id="fb" x="-30%" y="-30%" width="160%" height="160%" color-interpolation-filters="sRGB"><feGaussianBlur in="SourceAlpha" stdDeviation="1.3" result="b"/><feTurbulence type="fractalNoise" baseFrequency="0.95" numOctaves="1" seed="13" result="n1"/><feColorMatrix in="n1" type="matrix" values="0 0 0 0 0 0 0 0 0 0 0 0 0 0 0 1 0 0 0 0" result="a1"/><feTurbulence type="fractalNoise" baseFrequency="0.14" numOctaves="2" seed="40" result="n2"/><feColorMatrix in="n2" type="matrix" values="0 0 0 0 0 0 0 0 0 0 0 0 0 0 0 1 0 0 0 0" result="a2"/><feComposite in="a1" in2="a2" operator="arithmetic" k2="2.4" k3="0.6" k4="-1.35" result="na"/><feComposite in="b" in2="na" operator="arithmetic" k2="0.35" k3="-1" result="d"/><feComponentTransfer in="d" result="m"><feFuncA type="linear" slope="30"/></feComponentTransfer><feFlood flood-color="#0080ff"/><feComposite in2="m" operator="in"/></filter>
<filter id="fk" x="-30%" y="-30%" width="160%" height="160%" color-interpolation-filters="sRGB"><feGaussianBlur in="SourceAlpha" stdDeviation="1.2" result="b"/><feTurbulence type="fractalNoise" baseFrequency="0.95" numOctaves="1" seed="11" result="n1"/><feColorMatrix in="n1" type="matrix" values="0 0 0 0 0 0 0 0 0 0 0 0 0 0 0 1 0 0 0 0" result="a1"/><feTurbulence type="fractalNoise" baseFrequency="0.14" numOctaves="2" seed="42" result="n2"/><feColorMatrix in="n2" type="matrix" values="0 0 0 0 0 0 0 0 0 0 0 0 0 0 0 1 0 0 0 0" result="a2"/><feComposite in="a1" in2="a2" operator="arithmetic" k2="2.4" k3="0.6" k4="-1.35" result="na"/><feComposite in="b" in2="na" operator="arithmetic" k2="0.2" k3="-1" result="d"/><feComponentTransfer in="d" result="m"><feFuncA type="linear" slope="30"/></feComponentTransfer><feFlood flood-color="#8a8a8a"/><feComposite in2="m" operator="in"/></filter>
<linearGradient id="gd" x1="0" y1="0" x2="1" y2="1"><stop offset="0" stop-color="#000" stop-opacity="0.8"/><stop offset="0.55" stop-color="#000" stop-opacity="0.95"/><stop offset="1" stop-color="#000" stop-opacity="1"/></linearGradient>
</defs>
<g transform="translate(0 0)">
<ellipse cx="53.6" cy="293.3" rx="11.2" ry="17.6" fill="url(#gd)" filter="url(#fr)" opacity="1" transform="rotate(-14 53.6 293.3)"/>
<g filter="url(#fp)"><path d="M91.6 254.9C94.07 254.37 96.85 255.07 99.3 256.8C101.75 258.53 104.38 261.67 106.3 265.3C108.22 268.93 110.02 273.67 110.8 278.6C111.58 283.53 111.72 289.93 111 294.9C110.28 299.87 108.6 305.03 106.5 308.4C104.4 311.77 102 313.53 98.4 315.1C94.8 316.67 88.97 316.9 84.9 317.8C80.83 318.7 76.93 319.6 74 320.5C71.07 321.4 68.73 323.87 67.3 323.2C65.87 322.53 65.53 319.87 65.4 316.5C65.27 313.13 65.73 307.08 66.5 303C67.27 298.92 67.67 294.83 70 292C72.33 289.17 78.67 289.33 80.5 286C82.33 282.67 80.33 276.33 81 272C81.67 267.67 82.73 262.85 84.5 260C86.27 257.15 89.13 255.43 91.6 254.9Z" fill="url(#gd)"/>
<circle cx="72.4" cy="278.6" r="6.2"/><circle cx="59.7" cy="315.8" r="1.5"/><circle cx="67.3" cy="320.2" r="1.8"/><circle cx="110.2" cy="309.2" r="1.6"/><circle cx="130" cy="320.5" r="1.3"/></g>
<ellipse cx="90" cy="333.8" rx="18.6" ry="14.2" filter="url(#fo)" transform="rotate(-6 90 333.8)"/>
<g filter="url(#fg)"><ellipse cx="123.2" cy="296.5" rx="10" ry="8.3"/><ellipse cx="119.5" cy="313" rx="6" ry="11.5"/></g>
<g filter="url(#fb)"><ellipse cx="119" cy="268.6" rx="5.6" ry="7.6"/><circle cx="126.5" cy="268.5" r="1.6"/><circle cx="141" cy="299.3" r="2.6"/></g>
<g filter="url(#fk)"><circle cx="67.3" cy="258.7" r="3.2"/><circle cx="106" cy="251.8" r="3.2"/><circle cx="131" cy="278.4" r="2.5"/><circle cx="137.6" cy="288.3" r="1.6"/></g>
</g>
<g transform="translate(126.7 0)">
<ellipse cx="53.6" cy="293.3" rx="11.76" ry="18.48" fill="url(#gd)" filter="url(#fr)" opacity="1" transform="rotate(-14 53.6 293.3)"/>
<g filter="url(#fp)"><path d="M91.6 254.9C94.07 254.37 96.85 255.07 99.3 256.8C101.75 258.53 104.38 261.67 106.3 265.3C108.22 268.93 110.02 273.67 110.8 278.6C111.58 283.53 111.72 289.93 111 294.9C110.28 299.87 108.6 305.03 106.5 308.4C104.4 311.77 102 313.53 98.4 315.1C94.8 316.67 88.97 316.9 84.9 317.8C80.83 318.7 76.93 319.6 74 320.5C71.07 321.4 68.73 323.87 67.3 323.2C65.87 322.53 65.53 319.87 65.4 316.5C65.27 313.13 65.73 307.08 66.5 303C67.27 298.92 67.67 294.83 70 292C72.33 289.17 78.67 289.33 80.5 286C82.33 282.67 80.33 276.33 81 272C81.67 267.67 82.73 262.85 84.5 260C86.27 257.15 89.13 255.43 91.6 254.9Z" fill="url(#gd)"/>
<circle cx="72.4" cy="278.6" r="6.2"/><circle cx="59.7" cy="315.8" r="1.5"/><circle cx="67.3" cy="320.2" r="1.8"/><circle cx="110.2" cy="309.2" r="1.6"/><circle cx="130" cy="320.5" r="1.3"/></g>
<ellipse cx="90" cy="333.8" rx="18.6" ry="14.2" filter="url(#fo)" transform="rotate(-6 90 333.8)"/>
<g filter="url(#fg)"><ellipse cx="123.2" cy="296.5" rx="10" ry="8.3"/><ellipse cx="119.5" cy="313" rx="6" ry="11.5"/></g>
<g filter="url(#fb)"><ellipse cx="119" cy="268.6" rx="4.2" ry="5.7"/><circle cx="126.5" cy="268.5" r="1.6"/><circle cx="141" cy="299.3" r="2.6"/></g>
<g filter="url(#fk)"><circle cx="67.3" cy="258.7" r="3.2"/><circle cx="106" cy="251.8" r="3.2"/><circle cx="131" cy="278.4" r="2.5"/><circle cx="137.6" cy="288.3" r="1.6"/></g>
</g>
<g transform="translate(252.7 0)">
<ellipse cx="53.6" cy="293.3" rx="10.3" ry="16.19" fill="url(#gd)" filter="url(#fr)" opacity="0.92" transform="rotate(-14 53.6 293.3)"/>
<g filter="url(#fp)"><path d="M91.6 254.9C94.07 254.37 96.85 255.07 99.3 256.8C101.75 258.53 104.38 261.67 106.3 265.3C108.22 268.93 110.02 273.67 110.8 278.6C111.58 283.53 111.72 289.93 111 294.9C110.28 299.87 108.6 305.03 106.5 308.4C104.4 311.77 102 313.53 98.4 315.1C94.8 316.67 88.97 316.9 84.9 317.8C80.83 318.7 76.93 319.6 74 320.5C71.07 321.4 68.73 323.87 67.3 323.2C65.87 322.53 65.53 319.87 65.4 316.5C65.27 313.13 65.73 307.08 66.5 303C67.27 298.92 67.67 294.83 70 292C72.33 289.17 78.67 289.33 80.5 286C82.33 282.67 80.33 276.33 81 272C81.67 267.67 82.73 262.85 84.5 260C86.27 257.15 89.13 255.43 91.6 254.9Z" fill="url(#gd)"/>
<circle cx="72.4" cy="278.6" r="6.2"/><circle cx="59.7" cy="315.8" r="1.5"/><circle cx="67.3" cy="320.2" r="1.8"/><circle cx="110.2" cy="309.2" r="1.6"/><circle cx="130" cy="320.5" r="1.3"/></g>
<ellipse cx="90" cy="333.8" rx="18.6" ry="14.2" filter="url(#fo)" transform="rotate(-6 90 333.8)"/>
<g filter="url(#fg)"><ellipse cx="123.2" cy="296.5" rx="10" ry="8.3"/><ellipse cx="119.5" cy="313" rx="6" ry="11.5"/></g>
<g filter="url(#fb)"><ellipse cx="119" cy="268.6" rx="5.32" ry="7.22"/><circle cx="126.5" cy="268.5" r="1.6"/><circle cx="141" cy="299.3" r="2.6"/></g>
<g filter="url(#fk)"><circle cx="67.3" cy="258.7" r="3.2"/><circle cx="106" cy="251.8" r="3.2"/><circle cx="131" cy="278.4" r="2.5"/><circle cx="137.6" cy="288.3" r="1.6"/></g>
</g>
<g transform="translate(379.5 0)">
<ellipse cx="53.6" cy="293.3" rx="11.2" ry="17.6" fill="url(#gd)" filter="url(#fr)" opacity="0.72" transform="rotate(-14 53.6 293.3)"/>
<g filter="url(#fp)"><path d="M91.6 254.9C94.07 254.37 96.85 255.07 99.3 256.8C101.75 258.53 104.38 261.67 106.3 265.3C108.22 268.93 110.02 273.67 110.8 278.6C111.58 283.53 111.72 289.93 111 294.9C110.28 299.87 108.6 305.03 106.5 308.4C104.4 311.77 102 313.53 98.4 315.1C94.8 316.67 88.97 316.9 84.9 317.8C80.83 318.7 76.93 319.6 74 320.5C71.07 321.4 68.73 323.87 67.3 323.2C65.87 322.53 65.53 319.87 65.4 316.5C65.27 313.13 65.73 307.08 66.5 303C67.27 298.92 67.67 294.83 70 292C72.33 289.17 78.67 289.33 80.5 286C82.33 282.67 80.33 276.33 81 272C81.67 267.67 82.73 262.85 84.5 260C86.27 257.15 89.13 255.43 91.6 254.9Z" fill="url(#gd)"/>
<circle cx="72.4" cy="278.6" r="6.2"/><circle cx="59.7" cy="315.8" r="1.5"/><circle cx="67.3" cy="320.2" r="1.8"/><circle cx="110.2" cy="309.2" r="1.6"/><circle cx="130" cy="320.5" r="1.3"/></g>
<ellipse cx="90" cy="333.8" rx="18.6" ry="14.2" filter="url(#fo)" transform="rotate(-6 90 333.8)"/>
<g filter="url(#fg)"><ellipse cx="123.2" cy="296.5" rx="10" ry="8.3"/><ellipse cx="119.5" cy="313" rx="6" ry="11.5"/></g>
<g filter="url(#fb)"><ellipse cx="119" cy="268.6" rx="4.48" ry="6.08"/><circle cx="126.5" cy="268.5" r="1.6"/><circle cx="141" cy="299.3" r="2.6"/></g>
<g filter="url(#fk)"><circle cx="67.3" cy="258.7" r="3.2"/><circle cx="106" cy="251.8" r="3.2"/><circle cx="131" cy="278.4" r="2.5"/><circle cx="137.6" cy="288.3" r="1.6"/></g>
</g>
<text x="3.5" y="254.4" font-size="9" font-weight="bold" fill="#ff1a1a" textLength="50.9" lengthAdjust="spacingAndGlyphs">Neutrophils</text>
<text x="29.9" y="268" font-size="10.5" font-weight="bold" fill="#ff1a1a" textLength="29.7" lengthAdjust="spacingAndGlyphs">11.4%</text>
<text x="70.8" y="250.9" font-size="9.3" fill="#8050c4" textLength="26.8" lengthAdjust="spacingAndGlyphs">B cells</text>
<text x="111.7" y="247.4" font-size="9" font-weight="bold" fill="#0f86fa" textLength="47.1" lengthAdjust="spacingAndGlyphs">Monocytes</text>
<text x="120.8" y="259.5" font-size="10.5" font-weight="bold" fill="#0f86fa" textLength="29.9" lengthAdjust="spacingAndGlyphs">8.53%</text>
<text x="40.3" y="339.5" font-size="9.3" fill="#f08a2a">T CD4<tspan font-size="6" dy="-4">+</tspan></text>
<text x="122" y="334.9" font-size="9.3" fill="#4b8b1b">T CD8<tspan font-size="6" dy="-4">+</tspan></text>
<text x="157.5" y="268.4" font-size="10.5" font-weight="bold" fill="#ff1a1a" textLength="29.5" lengthAdjust="spacingAndGlyphs">17.3%</text>
<text x="238.4" y="255.3" font-size="10.5" font-weight="bold" fill="#0f86fa" textLength="29.8" lengthAdjust="spacingAndGlyphs">1.79%</text>
<text x="283" y="268" font-size="10.5" font-weight="bold" fill="#ff1a1a" textLength="29.8" lengthAdjust="spacingAndGlyphs">8.36%</text>
<text x="368.6" y="255" font-size="10.5" font-weight="bold" fill="#0f86fa" textLength="29.8" lengthAdjust="spacingAndGlyphs">5.76%</text>
<text x="409.6" y="268" font-size="10.5" font-weight="bold" fill="#ff1a1a" textLength="29.8" lengthAdjust="spacingAndGlyphs">12.7%</text>
<text x="491.8" y="255" font-size="10.5" font-weight="bold" fill="#0f86fa" textLength="29.8" lengthAdjust="spacingAndGlyphs">1.94%</text>
<text x="556.3" y="208.6" font-size="15">F.</text>
<path d="M590.3 237.3V364.5H685" fill="none" stroke="#000" stroke-width="1.5" stroke-linejoin="miter"/>
<line x1="586.5" y1="364.5" x2="590.3" y2="364.5" stroke="#000" stroke-width="1.2"/>
<text x="585.6" y="367.3" font-size="8.3" text-anchor="end" font-weight="bold" textLength="9.31" lengthAdjust="spacingAndGlyphs">0.0</text>
<line x1="586.5" y1="339.06" x2="590.3" y2="339.06" stroke="#000" stroke-width="1.2"/>
<text x="585.6" y="341.86" font-size="8.3" text-anchor="end" font-weight="bold" textLength="9.31" lengthAdjust="spacingAndGlyphs">0.1</text>
<line x1="586.5" y1="313.62" x2="590.3" y2="313.62" stroke="#000" stroke-width="1.2"/>
<text x="585.6" y="316.42" font-size="8.3" text-anchor="end" font-weight="bold" textLength="9.31" lengthAdjust="spacingAndGlyphs">0.2</text>
<line x1="586.5" y1="288.18" x2="590.3" y2="288.18" stroke="#000" stroke-width="1.2"/>
<text x="585.6" y="290.98" font-size="8.3" text-anchor="end" font-weight="bold" textLength="9.31" lengthAdjust="spacingAndGlyphs">0.3</text>
<line x1="586.5" y1="262.74" x2="590.3" y2="262.74" stroke="#000" stroke-width="1.2"/>
<text x="585.6" y="265.54" font-size="8.3" text-anchor="end" font-weight="bold" textLength="9.31" lengthAdjust="spacingAndGlyphs">0.4</text>
<line x1="586.5" y1="237.3" x2="590.3" y2="237.3" stroke="#000" stroke-width="1.2"/>
<text x="585.6" y="240.1" font-size="8.3" text-anchor="end" font-weight="bold" textLength="9.31" lengthAdjust="spacingAndGlyphs">0.5</text>
<rect x="595.6" y="315.3" width="16.7" height="49.2" fill="#fff" stroke="#000" stroke-width="1.2"/>
<line x1="603.95" y1="304.8" x2="603.95" y2="326" stroke="#000" stroke-width="1.1"/>
<line x1="600.03" y1="304.8" x2="607.87" y2="304.8" stroke="#000" stroke-width="1.1"/>
<line x1="600.03" y1="326" x2="607.87" y2="326" stroke="#000" stroke-width="1.1"/>
<g fill="#fff" stroke="#000" stroke-width="0.75">
<circle cx="597.2" cy="276.8" r="2.3"/>
<circle cx="610.3" cy="274.7" r="2.3"/>
<circle cx="603.8" cy="298.2" r="2.3"/>
<circle cx="603.8" cy="313.1" r="2.3"/>
<circle cx="603.8" cy="326.6" r="2.3"/>
<circle cx="603.8" cy="339" r="2.3"/>
<circle cx="597.2" cy="345.2" r="2.3"/>
<circle cx="610.3" cy="345.2" r="2.3"/>
</g>
<text x="603.95" y="371.6" font-size="7.1" text-anchor="middle" font-weight="bold">C</text>
<rect x="618.5" y="349.4" width="16.1" height="15.1" fill="#0a4e95" stroke="#000" stroke-width="1.2"/>
<line x1="626.55" y1="345.5" x2="626.55" y2="353.3" stroke="#000" stroke-width="1.1"/>
<line x1="622.77" y1="345.5" x2="630.33" y2="345.5" stroke="#000" stroke-width="1.1"/>
<line x1="622.77" y1="353.3" x2="630.33" y2="353.3" stroke="#000" stroke-width="1.1"/>
<g fill="#fff" stroke="#000" stroke-width="0.75">
<circle cx="622.7" cy="334.9" r="2.3"/>
<circle cx="629.3" cy="335.9" r="2.3"/>
<circle cx="620" cy="346.3" r="2.3"/>
<circle cx="633.1" cy="344.6" r="2.3"/>
<circle cx="626.2" cy="351.5" r="2.3"/>
<circle cx="626.2" cy="357.1" r="2.3"/>
<circle cx="620" cy="361.2" r="2.3"/>
<circle cx="632.5" cy="357.7" r="2.3"/>
</g>
<text x="626.55" y="371.6" font-size="7.1" text-anchor="middle" font-weight="bold">S</text>
<rect x="640.6" y="301.2" width="16.9" height="63.3" fill="#a2361a" stroke="#000" stroke-width="1.2"/>
<line x1="649.05" y1="289.4" x2="649.05" y2="312.3" stroke="#000" stroke-width="1.1"/>
<line x1="645.08" y1="289.4" x2="653.02" y2="289.4" stroke="#000" stroke-width="1.1"/>
<line x1="645.08" y1="312.3" x2="653.02" y2="312.3" stroke="#000" stroke-width="1.1"/>
<g fill="#fff" stroke="#000" stroke-width="0.75">
<circle cx="649.1" cy="260.8" r="2.3"/>
<circle cx="649.1" cy="282.5" r="2.3"/>
<circle cx="642.6" cy="288.5" r="2.3"/>
<circle cx="655.6" cy="290" r="2.3"/>
<circle cx="649.1" cy="300.2" r="2.3"/>
<circle cx="649.1" cy="328.4" r="2.3"/>
<circle cx="649.1" cy="353.5" r="2.3"/>
</g>
<text x="649.05" y="371.6" font-size="7.1" text-anchor="middle" font-weight="bold">S-F</text>
<rect x="663.6" y="340.4" width="16.4" height="24.1" fill="#4b8b0b" stroke="#000" stroke-width="1.2"/>
<line x1="671.8" y1="335" x2="671.8" y2="346" stroke="#000" stroke-width="1.1"/>
<line x1="667.95" y1="335" x2="675.65" y2="335" stroke="#000" stroke-width="1.1"/>
<line x1="667.95" y1="346" x2="675.65" y2="346" stroke="#000" stroke-width="1.1"/>
<g fill="#fff" stroke="#000" stroke-width="0.75">
<circle cx="671.8" cy="309.5" r="2.3"/>
<circle cx="677.9" cy="333.3" r="2.3"/>
<circle cx="671.8" cy="336.6" r="2.3"/>
<circle cx="665.3" cy="342.6" r="2.3"/>
<circle cx="677.9" cy="345.7" r="2.3"/>
<circle cx="671.8" cy="348.5" r="2.3"/>
<circle cx="665.3" cy="351.7" r="2.3"/>
<circle cx="677.9" cy="351.7" r="2.3"/>
</g>
<text x="671.8" y="371.6" font-size="7.1" text-anchor="middle" font-weight="bold">S-F-S</text>
<text x="571.2" y="301.3" font-size="7.5" text-anchor="middle" font-weight="bold" textLength="99.4" lengthAdjust="spacingAndGlyphs" transform="rotate(-90 571.2 301.3)">Blood Monocytes (x10<tspan font-size="5" dy="-3">6</tspan><tspan dy="3">/mL)</tspan></text>
<path d="M626.4 237.5V231.4H649.1V237.5" fill="none" stroke="#000" stroke-width="1.15" stroke-linejoin="miter"/>
<text x="637.75" y="227.3" font-size="7.1" text-anchor="middle" textLength="19" lengthAdjust="spacingAndGlyphs">0.0016</text>
<path d="M603.8 269.5V250H626.4V329.7" fill="none" stroke="#000" stroke-width="1.15" stroke-linejoin="miter"/>
<text x="615.1" y="245.5" font-size="7.1" text-anchor="middle" textLength="19" lengthAdjust="spacingAndGlyphs">0.0264</text>
<path d="M649.1 255V250H671.8V305.2" fill="none" stroke="#000" stroke-width="1.15" stroke-linejoin="miter"/>
<text x="660.45" y="245.5" font-size="7.1" text-anchor="middle" textLength="19" lengthAdjust="spacingAndGlyphs">0.0109</text>
<text x="0.5" y="398.8" font-size="15">G.</text>
<path d="M29.5 406.2V530.7H122.3" fill="none" stroke="#000" stroke-width="1.5" stroke-linejoin="miter"/>
<line x1="26" y1="530.7" x2="29.5" y2="530.7" stroke="#000" stroke-width="1.2"/>
<text x="25.2" y="533.5" font-size="8.3" text-anchor="end" font-weight="bold" textLength="9.31" lengthAdjust="spacingAndGlyphs">0.5</text>
<line x1="26" y1="499.6" x2="29.5" y2="499.6" stroke="#000" stroke-width="1.2"/>
<text x="25.2" y="502.4" font-size="8.3" text-anchor="end" font-weight="bold" textLength="9.31" lengthAdjust="spacingAndGlyphs">1.0</text>
<line x1="26" y1="468.4" x2="29.5" y2="468.4" stroke="#000" stroke-width="1.2"/>
<text x="25.2" y="471.2" font-size="8.3" text-anchor="end" font-weight="bold" textLength="9.31" lengthAdjust="spacingAndGlyphs">1.5</text>
<line x1="26" y1="437.3" x2="29.5" y2="437.3" stroke="#000" stroke-width="1.2"/>
<text x="25.2" y="440.1" font-size="8.3" text-anchor="end" font-weight="bold" textLength="9.31" lengthAdjust="spacingAndGlyphs">2.0</text>
<line x1="26" y1="406.2" x2="29.5" y2="406.2" stroke="#000" stroke-width="1.2"/>
<text x="25.2" y="409" font-size="8.3" text-anchor="end" font-weight="bold" textLength="9.31" lengthAdjust="spacingAndGlyphs">2.5</text>
<line x1="29.5" y1="530.7" x2="29.5" y2="534.2" stroke="#000" stroke-width="1.2"/>
<text x="29.5" y="541" font-size="8.3" text-anchor="middle" font-weight="bold" textLength="9.31" lengthAdjust="spacingAndGlyphs">0.0</text>
<line x1="52.7" y1="530.7" x2="52.7" y2="534.2" stroke="#000" stroke-width="1.2"/>
<text x="52.7" y="541" font-size="8.3" text-anchor="middle" font-weight="bold" textLength="9.31" lengthAdjust="spacingAndGlyphs">0.1</text>
<line x1="75.9" y1="530.7" x2="75.9" y2="534.2" stroke="#000" stroke-width="1.2"/>
<text x="75.9" y="541" font-size="8.3" text-anchor="middle" font-weight="bold" textLength="9.31" lengthAdjust="spacingAndGlyphs">0.2</text>
<line x1="99.1" y1="530.7" x2="99.1" y2="534.2" stroke="#000" stroke-width="1.2"/>
<text x="99.1" y="541" font-size="8.3" text-anchor="middle" font-weight="bold" textLength="9.31" lengthAdjust="spacingAndGlyphs">0.3</text>
<line x1="122.3" y1="530.7" x2="122.3" y2="534.2" stroke="#000" stroke-width="1.2"/>
<text x="122.3" y="541" font-size="8.3" text-anchor="middle" font-weight="bold" textLength="9.31" lengthAdjust="spacingAndGlyphs">0.4</text>
<rect x="32.2" y="406.3" width="9.5" height="4.3" fill="#fff" stroke="#000" stroke-width="1"/>
<text x="45.9" y="411" font-size="7.6" textLength="4.48" lengthAdjust="spacingAndGlyphs">C</text>
<rect x="32.2" y="414" width="9.5" height="4.3" fill="#0a4e95" stroke="#000" stroke-width="1"/>
<text x="45.9" y="418.7" font-size="7.6" textLength="4.14" lengthAdjust="spacingAndGlyphs">S</text>
<rect x="32.2" y="421.4" width="9.5" height="4.3" fill="#a2361a" stroke="#000" stroke-width="1"/>
<text x="45.9" y="426.1" font-size="7.6" textLength="9.99" lengthAdjust="spacingAndGlyphs">S-F</text>
<rect x="32.2" y="429.1" width="9.5" height="4.3" fill="#4b8b0b" stroke="#000" stroke-width="1"/>
<text x="45.9" y="433.8" font-size="7.6" textLength="16.19" lengthAdjust="spacingAndGlyphs">S-F-S</text>
<text x="10.3" y="467.8" font-size="8" text-anchor="middle" font-weight="bold" textLength="45.5" lengthAdjust="spacingAndGlyphs" transform="rotate(-90 10.3 467.8)">Glucose (g/L)</text>
<text x="76.2" y="553" font-size="7.5" text-anchor="middle" font-weight="bold" textLength="96.2" lengthAdjust="spacingAndGlyphs">Monocyte counts (x10<tspan font-size="5" dy="-3">6</tspan><tspan dy="3">/mL)</tspan></text>
<text x="85.4" y="519.3" font-size="8.2" textLength="35.1" lengthAdjust="spacingAndGlyphs">R<tspan font-size="5" dy="-3">2</tspan><tspan dy="3">=0.6338</tspan></text>
<line x1="43.9" y1="484.7" x2="87.8" y2="449.6" stroke="#000" stroke-width="1.2"/>
<path d="M43.9 471.2C52 466 60 461 65.5 457C74 450 81 444 87.8 435.7" fill="none" stroke="#000" stroke-width="1.1" stroke-dasharray="3.6 2.2"/>
<path d="M45.3 494.9C52 488 59 479 65.5 473.2C73 467 80 465 87.8 462.4" fill="none" stroke="#000" stroke-width="1.1" stroke-dasharray="3.6 2.2"/>
<g stroke="#a0a0a0" stroke-width="1.1">
<line x1="65.6" y1="446.9" x2="84.4" y2="446.9" stroke="#a0a0a0" stroke-width="1.1"/>
<line x1="65.6" y1="444.7" x2="65.6" y2="449.1" stroke="#a0a0a0" stroke-width="1.1"/>
<line x1="84.4" y1="444.7" x2="84.4" y2="449.1" stroke="#a0a0a0" stroke-width="1.1"/>
<line x1="75" y1="444.5" x2="75" y2="449.3" stroke="#a0a0a0" stroke-width="1.1"/>
<line x1="72.8" y1="444.5" x2="77.2" y2="444.5" stroke="#a0a0a0" stroke-width="1.1"/>
<line x1="72.8" y1="449.3" x2="77.2" y2="449.3" stroke="#a0a0a0" stroke-width="1.1"/>
</g>
<circle cx="75" cy="446.9" r="2.9" fill="#fff" stroke="#000" stroke-width="0.8"/>
<g stroke="#a0a0a0" stroke-width="1.1">
<line x1="77.4" y1="458.8" x2="98.2" y2="458.8" stroke="#a0a0a0" stroke-width="1.1"/>
<line x1="77.4" y1="456.6" x2="77.4" y2="461" stroke="#a0a0a0" stroke-width="1.1"/>
<line x1="98.2" y1="456.6" x2="98.2" y2="461" stroke="#a0a0a0" stroke-width="1.1"/>
<line x1="87.8" y1="448.6" x2="87.8" y2="469" stroke="#a0a0a0" stroke-width="1.1"/>
<line x1="85.6" y1="448.6" x2="90" y2="448.6" stroke="#a0a0a0" stroke-width="1.1"/>
<line x1="85.6" y1="469" x2="90" y2="469" stroke="#a0a0a0" stroke-width="1.1"/>
</g>
<circle cx="87.8" cy="458.8" r="2.9" fill="#a2361a" stroke="#000" stroke-width="0.8"/>
<g stroke="#a0a0a0" stroke-width="1.1">
<line x1="47.5" y1="468.2" x2="56.5" y2="468.2" stroke="#a0a0a0" stroke-width="1.1"/>
<line x1="47.5" y1="466" x2="47.5" y2="470.4" stroke="#a0a0a0" stroke-width="1.1"/>
<line x1="56.5" y1="466" x2="56.5" y2="470.4" stroke="#a0a0a0" stroke-width="1.1"/>
<line x1="52" y1="463.2" x2="52" y2="473.2" stroke="#a0a0a0" stroke-width="1.1"/>
<line x1="49.8" y1="463.2" x2="54.2" y2="463.2" stroke="#a0a0a0" stroke-width="1.1"/>
<line x1="49.8" y1="473.2" x2="54.2" y2="473.2" stroke="#a0a0a0" stroke-width="1.1"/>
</g>
<circle cx="52" cy="468.2" r="2.9" fill="#4b8b0b" stroke="#000" stroke-width="0.8"/>
<g stroke="#a0a0a0" stroke-width="1.1">
<line x1="41.7" y1="494.2" x2="46.1" y2="494.2" stroke="#a0a0a0" stroke-width="1.1"/>
<line x1="41.7" y1="492" x2="41.7" y2="496.4" stroke="#a0a0a0" stroke-width="1.1"/>
<line x1="46.1" y1="492" x2="46.1" y2="496.4" stroke="#a0a0a0" stroke-width="1.1"/>
<line x1="43.9" y1="486.4" x2="43.9" y2="502" stroke="#a0a0a0" stroke-width="1.1"/>
<line x1="41.7" y1="486.4" x2="46.1" y2="486.4" stroke="#a0a0a0" stroke-width="1.1"/>
<line x1="41.7" y1="502" x2="46.1" y2="502" stroke="#a0a0a0" stroke-width="1.1"/>
</g>
<circle cx="43.9" cy="494.2" r="2.9" fill="#0a4e95" stroke="#000" stroke-width="0.8"/>
<path d="M156.3 407.2V530.5H247.3" fill="none" stroke="#000" stroke-width="1.5" stroke-linejoin="miter"/>
<line x1="152.8" y1="530.5" x2="156.3" y2="530.5" stroke="#000" stroke-width="1.2"/>
<text x="152" y="533.3" font-size="8.3" text-anchor="end" font-weight="bold" textLength="9.31" lengthAdjust="spacingAndGlyphs">0.0</text>
<line x1="152.8" y1="499.2" x2="156.3" y2="499.2" stroke="#000" stroke-width="1.2"/>
<text x="152" y="502" font-size="8.3" text-anchor="end" font-weight="bold" textLength="9.31" lengthAdjust="spacingAndGlyphs">0.5</text>
<line x1="152.8" y1="468.5" x2="156.3" y2="468.5" stroke="#000" stroke-width="1.2"/>
<text x="152" y="471.3" font-size="8.3" text-anchor="end" font-weight="bold" textLength="9.31" lengthAdjust="spacingAndGlyphs">1.0</text>
<line x1="152.8" y1="437.8" x2="156.3" y2="437.8" stroke="#000" stroke-width="1.2"/>
<text x="152" y="440.6" font-size="8.3" text-anchor="end" font-weight="bold" textLength="9.31" lengthAdjust="spacingAndGlyphs">1.5</text>
<line x1="152.8" y1="407.2" x2="156.3" y2="407.2" stroke="#000" stroke-width="1.2"/>
<text x="152" y="410" font-size="8.3" text-anchor="end" font-weight="bold" textLength="9.31" lengthAdjust="spacingAndGlyphs">2.0</text>
<line x1="156.3" y1="530.5" x2="156.3" y2="534" stroke="#000" stroke-width="1.2"/>
<text x="156.3" y="540.8" font-size="8.3" text-anchor="middle" font-weight="bold" textLength="9.31" lengthAdjust="spacingAndGlyphs">0.0</text>
<line x1="179" y1="530.5" x2="179" y2="534" stroke="#000" stroke-width="1.2"/>
<text x="179" y="540.8" font-size="8.3" text-anchor="middle" font-weight="bold" textLength="9.31" lengthAdjust="spacingAndGlyphs">0.1</text>
<line x1="201.8" y1="530.5" x2="201.8" y2="534" stroke="#000" stroke-width="1.2"/>
<text x="201.8" y="540.8" font-size="8.3" text-anchor="middle" font-weight="bold" textLength="9.31" lengthAdjust="spacingAndGlyphs">0.2</text>
<line x1="224.6" y1="530.5" x2="224.6" y2="534" stroke="#000" stroke-width="1.2"/>
<text x="224.6" y="540.8" font-size="8.3" text-anchor="middle" font-weight="bold" textLength="9.31" lengthAdjust="spacingAndGlyphs">0.3</text>
<line x1="247.3" y1="530.5" x2="247.3" y2="534" stroke="#000" stroke-width="1.2"/>
<text x="247.3" y="540.8" font-size="8.3" text-anchor="middle" font-weight="bold" textLength="9.31" lengthAdjust="spacingAndGlyphs">0.4</text>
<text x="137.6" y="468.8" font-size="8" text-anchor="middle" font-weight="bold" textLength="52" lengthAdjust="spacingAndGlyphs" transform="rotate(-90 137.6 468.8)">NEFA (mmol/L)</text>
<text x="201.8" y="553" font-size="7.5" text-anchor="middle" font-weight="bold" textLength="96.2" lengthAdjust="spacingAndGlyphs">Monocyte counts (x10<tspan font-size="5" dy="-3">6</tspan><tspan dy="3">/mL)</tspan></text>
<text x="214.4" y="519.9" font-size="8.2" textLength="35.1" lengthAdjust="spacingAndGlyphs">R<tspan font-size="5" dy="-3">2</tspan><tspan dy="3">=0.4228</tspan></text>
<line x1="170.2" y1="457.7" x2="213.6" y2="483.8" stroke="#000" stroke-width="1.2"/>
<path d="M170.4 448.6C178 455 186 462 193.5 467.5C200 471 207 473 213.6 474.8" fill="none" stroke="#000" stroke-width="1.1" stroke-dasharray="3.6 2.2"/>
<path d="M170 468.5C180 472 192 477 200.7 483.8C205 487 210 492 213.6 497.3" fill="none" stroke="#000" stroke-width="1.1" stroke-dasharray="3.6 2.2"/>
<g stroke="#a0a0a0" stroke-width="1.1">
<line x1="191.7" y1="477.4" x2="210.7" y2="477.4" stroke="#a0a0a0" stroke-width="1.1"/>
<line x1="191.7" y1="475.2" x2="191.7" y2="479.6" stroke="#a0a0a0" stroke-width="1.1"/>
<line x1="210.7" y1="475.2" x2="210.7" y2="479.6" stroke="#a0a0a0" stroke-width="1.1"/>
<line x1="201.2" y1="470.1" x2="201.2" y2="484.7" stroke="#a0a0a0" stroke-width="1.1"/>
<line x1="199" y1="470.1" x2="203.4" y2="470.1" stroke="#a0a0a0" stroke-width="1.1"/>
<line x1="199" y1="484.7" x2="203.4" y2="484.7" stroke="#a0a0a0" stroke-width="1.1"/>
</g>
<circle cx="201.2" cy="477.4" r="2.9" fill="#fff" stroke="#000" stroke-width="0.8"/>
<g stroke="#a0a0a0" stroke-width="1.1">
<line x1="203.4" y1="483.8" x2="223.8" y2="483.8" stroke="#a0a0a0" stroke-width="1.1"/>
<line x1="203.4" y1="481.6" x2="203.4" y2="486" stroke="#a0a0a0" stroke-width="1.1"/>
<line x1="223.8" y1="481.6" x2="223.8" y2="486" stroke="#a0a0a0" stroke-width="1.1"/>
<line x1="213.6" y1="480.3" x2="213.6" y2="487.3" stroke="#a0a0a0" stroke-width="1.1"/>
<line x1="211.4" y1="480.3" x2="215.8" y2="480.3" stroke="#a0a0a0" stroke-width="1.1"/>
<line x1="211.4" y1="487.3" x2="215.8" y2="487.3" stroke="#a0a0a0" stroke-width="1.1"/>
</g>
<circle cx="213.6" cy="483.8" r="2.9" fill="#a2361a" stroke="#000" stroke-width="0.8"/>
<g stroke="#a0a0a0" stroke-width="1.1">
<line x1="174.1" y1="483.8" x2="182.5" y2="483.8" stroke="#a0a0a0" stroke-width="1.1"/>
<line x1="174.1" y1="481.6" x2="174.1" y2="486" stroke="#a0a0a0" stroke-width="1.1"/>
<line x1="182.5" y1="481.6" x2="182.5" y2="486" stroke="#a0a0a0" stroke-width="1.1"/>
<line x1="178.3" y1="481.8" x2="178.3" y2="485.8" stroke="#a0a0a0" stroke-width="1.1"/>
<line x1="176.1" y1="481.8" x2="180.5" y2="481.8" stroke="#a0a0a0" stroke-width="1.1"/>
<line x1="176.1" y1="485.8" x2="180.5" y2="485.8" stroke="#a0a0a0" stroke-width="1.1"/>
</g>
<circle cx="178.3" cy="483.8" r="2.9" fill="#4b8b0b" stroke="#000" stroke-width="0.8"/>
<g stroke="#a0a0a0" stroke-width="1.1">
<line x1="168.4" y1="444.7" x2="172.4" y2="444.7" stroke="#a0a0a0" stroke-width="1.1"/>
<line x1="168.4" y1="442.5" x2="168.4" y2="446.9" stroke="#a0a0a0" stroke-width="1.1"/>
<line x1="172.4" y1="442.5" x2="172.4" y2="446.9" stroke="#a0a0a0" stroke-width="1.1"/>
<line x1="170.4" y1="437.3" x2="170.4" y2="452.1" stroke="#a0a0a0" stroke-width="1.1"/>
<line x1="168.2" y1="437.3" x2="172.6" y2="437.3" stroke="#a0a0a0" stroke-width="1.1"/>
<line x1="168.2" y1="452.1" x2="172.6" y2="452.1" stroke="#a0a0a0" stroke-width="1.1"/>
</g>
<circle cx="170.4" cy="444.7" r="2.9" fill="#0a4e95" stroke="#000" stroke-width="0.8"/>
<text x="254" y="398.9" font-size="15">H.</text>
<path d="M284.5 405.9V531.6H410.4" fill="none" stroke="#000" stroke-width="1.5" stroke-linejoin="miter"/>
<line x1="280.7" y1="531.6" x2="284.5" y2="531.6" stroke="#000" stroke-width="1.2"/>
<text x="279.8" y="534.4" font-size="8.3" text-anchor="end" font-weight="bold" textLength="3.73" lengthAdjust="spacingAndGlyphs">0</text>
<line x1="280.7" y1="500.18" x2="284.5" y2="500.18" stroke="#000" stroke-width="1.2"/>
<text x="279.8" y="502.98" font-size="8.3" text-anchor="end" font-weight="bold" textLength="3.73" lengthAdjust="spacingAndGlyphs">5</text>
<line x1="280.7" y1="468.76" x2="284.5" y2="468.76" stroke="#000" stroke-width="1.2"/>
<text x="279.8" y="471.56" font-size="8.3" text-anchor="end" font-weight="bold" textLength="7.45" lengthAdjust="spacingAndGlyphs">10</text>
<line x1="280.7" y1="437.34" x2="284.5" y2="437.34" stroke="#000" stroke-width="1.2"/>
<text x="279.8" y="440.14" font-size="8.3" text-anchor="end" font-weight="bold" textLength="7.45" lengthAdjust="spacingAndGlyphs">15</text>
<line x1="280.7" y1="405.92" x2="284.5" y2="405.92" stroke="#000" stroke-width="1.2"/>
<text x="279.8" y="408.72" font-size="8.3" text-anchor="end" font-weight="bold" textLength="7.45" lengthAdjust="spacingAndGlyphs">20</text>
<rect x="288.1" y="479.4" width="10.3" height="52.2" fill="#fff" stroke="#000" stroke-width="1.2"/>
<line x1="293.25" y1="477.5" x2="293.25" y2="481.5" stroke="#000" stroke-width="1.1"/>
<line x1="290.85" y1="477.5" x2="295.65" y2="477.5" stroke="#000" stroke-width="1.1"/>
<line x1="290.85" y1="481.5" x2="295.65" y2="481.5" stroke="#000" stroke-width="1.1"/>
<g fill="#fff" stroke="#000" stroke-width="0.7">
<circle cx="293.1" cy="476.1" r="1.9"/>
<circle cx="289.5" cy="480.6" r="1.9"/>
<circle cx="296.4" cy="480.4" r="1.9"/>
<circle cx="293.1" cy="482.6" r="1.9"/>
<circle cx="293.1" cy="485.3" r="1.9"/>
</g>
<rect x="302.3" y="460.3" width="10.3" height="71.3" fill="#0a4e95" stroke="#000" stroke-width="1.2"/>
<line x1="307.45" y1="453.6" x2="307.45" y2="465.5" stroke="#000" stroke-width="1.1"/>
<line x1="305.05" y1="453.6" x2="309.85" y2="453.6" stroke="#000" stroke-width="1.1"/>
<line x1="305.05" y1="465.5" x2="309.85" y2="465.5" stroke="#000" stroke-width="1.1"/>
<g fill="#fff" stroke="#000" stroke-width="0.7">
<circle cx="307.2" cy="445" r="1.9"/>
<circle cx="307.2" cy="454.2" r="1.9"/>
<circle cx="303.9" cy="470.7" r="1.9"/>
<circle cx="310.7" cy="468.5" r="1.9"/>
</g>
<rect x="316.3" y="478.2" width="10.3" height="53.4" fill="#a2361a" stroke="#000" stroke-width="1.2"/>
<line x1="321.45" y1="476.5" x2="321.45" y2="480" stroke="#000" stroke-width="1.1"/>
<line x1="319.05" y1="476.5" x2="323.85" y2="476.5" stroke="#000" stroke-width="1.1"/>
<line x1="319.05" y1="480" x2="323.85" y2="480" stroke="#000" stroke-width="1.1"/>
<g fill="#fff" stroke="#000" stroke-width="0.7">
<circle cx="317.4" cy="476.4" r="1.9"/>
<circle cx="324.8" cy="475.9" r="1.9"/>
<circle cx="321.2" cy="478.2" r="1.9"/>
<circle cx="317.4" cy="481.5" r="1.9"/>
<circle cx="324.8" cy="480.6" r="1.9"/>
</g>
<rect x="330.4" y="470.5" width="10.3" height="61.1" fill="#4b8b0b" stroke="#000" stroke-width="1.2"/>
<line x1="335.55" y1="467.5" x2="335.55" y2="474.5" stroke="#000" stroke-width="1.1"/>
<line x1="333.15" y1="467.5" x2="337.95" y2="467.5" stroke="#000" stroke-width="1.1"/>
<line x1="333.15" y1="474.5" x2="337.95" y2="474.5" stroke="#000" stroke-width="1.1"/>
<g fill="#fff" stroke="#000" stroke-width="0.7">
<circle cx="331.7" cy="466.9" r="1.9"/>
<circle cx="338.5" cy="467.2" r="1.9"/>
<circle cx="335.3" cy="476.3" r="1.9"/>
</g>
<rect x="355.1" y="515.8" width="10.3" height="15.8" fill="#fff" stroke="#000" stroke-width="1.2"/>
<line x1="360.25" y1="514.5" x2="360.25" y2="517.5" stroke="#000" stroke-width="1.1"/>
<line x1="357.85" y1="514.5" x2="362.65" y2="514.5" stroke="#000" stroke-width="1.1"/>
<line x1="357.85" y1="517.5" x2="362.65" y2="517.5" stroke="#000" stroke-width="1.1"/>
<g fill="#fff" stroke="#000" stroke-width="0.7">
<circle cx="356.5" cy="512.6" r="1.9"/>
<circle cx="360.1" cy="514" r="1.9"/>
<circle cx="363.6" cy="516.5" r="1.9"/>
<circle cx="356.5" cy="518.7" r="1.9"/>
</g>
<rect x="369.3" y="508.5" width="10.3" height="23.1" fill="#0a4e95" stroke="#000" stroke-width="1.2"/>
<line x1="374.45" y1="505.4" x2="374.45" y2="511.5" stroke="#000" stroke-width="1.1"/>
<line x1="372.05" y1="505.4" x2="376.85" y2="505.4" stroke="#000" stroke-width="1.1"/>
<line x1="372.05" y1="511.5" x2="376.85" y2="511.5" stroke="#000" stroke-width="1.1"/>
<g fill="#fff" stroke="#000" stroke-width="0.7">
<circle cx="370.6" cy="504" r="1.9"/>
<circle cx="377.6" cy="501.2" r="1.9"/>
<circle cx="370.6" cy="514" r="1.9"/>
<circle cx="377.6" cy="514" r="1.9"/>
</g>
<rect x="383.4" y="513.5" width="10.2" height="18.1" fill="#a2361a" stroke="#000" stroke-width="1.2"/>
<line x1="388.5" y1="509.8" x2="388.5" y2="516.5" stroke="#000" stroke-width="1.1"/>
<line x1="386.1" y1="509.8" x2="390.9" y2="509.8" stroke="#000" stroke-width="1.1"/>
<line x1="386.1" y1="516.5" x2="390.9" y2="516.5" stroke="#000" stroke-width="1.1"/>
<g fill="#fff" stroke="#000" stroke-width="0.7">
<circle cx="388" cy="504" r="1.9"/>
<circle cx="388" cy="512" r="1.9"/>
<circle cx="391.6" cy="516.7" r="1.9"/>
<circle cx="384.8" cy="519.3" r="1.9"/>
</g>
<rect x="397.5" y="506.4" width="10" height="25.2" fill="#4b8b0b" stroke="#000" stroke-width="1.2"/>
<line x1="402.5" y1="505" x2="402.5" y2="508" stroke="#000" stroke-width="1.1"/>
<line x1="400.1" y1="505" x2="404.9" y2="505" stroke="#000" stroke-width="1.1"/>
<line x1="400.1" y1="508" x2="404.9" y2="508" stroke="#000" stroke-width="1.1"/>
<g fill="#fff" stroke="#000" stroke-width="0.7">
<circle cx="398.9" cy="503.9" r="1.9"/>
<circle cx="405.7" cy="507.2" r="1.9"/>
<circle cx="398.9" cy="509.7" r="1.9"/>
</g>
<text x="314.3" y="539.1" font-size="6.85" text-anchor="middle" font-weight="bold" textLength="33.1" lengthAdjust="spacingAndGlyphs">Ly6C high</text>
<text x="381.3" y="538.8" font-size="6.85" text-anchor="middle" font-weight="bold" textLength="30" lengthAdjust="spacingAndGlyphs">Ly6C low</text>
<text x="268.2" y="472.3" font-size="7.5" text-anchor="middle" font-weight="bold" textLength="48.8" lengthAdjust="spacingAndGlyphs" transform="rotate(-90 268.2 472.3)">CCR2 (MFI x10<tspan font-size="5" dy="-3">3</tspan><tspan dy="3">)</tspan></text>
<rect x="358.2" y="410.2" width="9.5" height="4.3" fill="#fff" stroke="#000" stroke-width="1"/>
<text x="372.7" y="414.9" font-size="7.6" textLength="4.48" lengthAdjust="spacingAndGlyphs">C</text>
<rect x="358.2" y="418" width="9.5" height="4.3" fill="#0a4e95" stroke="#000" stroke-width="1"/>
<text x="372.7" y="422.7" font-size="7.6" textLength="4.14" lengthAdjust="spacingAndGlyphs">S</text>
<rect x="358.2" y="425.8" width="9.5" height="4.3" fill="#a2361a" stroke="#000" stroke-width="1"/>
<text x="372.7" y="430.5" font-size="7.6" textLength="9.99" lengthAdjust="spacingAndGlyphs">S-F</text>
<rect x="358.2" y="433.3" width="9.5" height="4.3" fill="#4b8b0b" stroke="#000" stroke-width="1"/>
<text x="372.7" y="438" font-size="7.6" textLength="16.19" lengthAdjust="spacingAndGlyphs">S-F-S</text>
<path d="M307.3 421.3V415.9H321.3V421.3" fill="none" stroke="#000" stroke-width="1.15" stroke-linejoin="miter"/>
<text x="314.3" y="411.4" font-size="7.1" text-anchor="middle" textLength="18.5" lengthAdjust="spacingAndGlyphs">0.0015</text>
<path d="M293 471.3V433.9H307.3V439.7" fill="none" stroke="#000" stroke-width="1.15" stroke-linejoin="miter"/>
<text x="300.15" y="429.6" font-size="7.1" text-anchor="middle" textLength="18.5" lengthAdjust="spacingAndGlyphs">0.0005</text>
<path d="M321.3 470.7V433.9H335.5V462" fill="none" stroke="#000" stroke-width="1.15" stroke-linejoin="miter"/>
<text x="328.4" y="429.6" font-size="7.1" text-anchor="middle" textLength="18.5" lengthAdjust="spacingAndGlyphs">0.3135</text>
<path d="M360.4 507.9V476.1H374.3V477.8" fill="none" stroke="#000" stroke-width="1.15" stroke-linejoin="miter"/>
<text x="367.35" y="471.4" font-size="7.1" text-anchor="middle" textLength="18.5" lengthAdjust="spacingAndGlyphs">0.3730</text>
<path d="M374.3 495.8V490.6H388.1V498.7" fill="none" stroke="#000" stroke-width="1.15" stroke-linejoin="miter"/>
<text x="381.2" y="486" font-size="7.1" text-anchor="middle" textLength="18.5" lengthAdjust="spacingAndGlyphs">0.7156</text>
<path d="M388.1 477.8V471.2H402.5V498.7" fill="none" stroke="#000" stroke-width="1.15" stroke-linejoin="miter"/>
<text x="395.3" y="466.3" font-size="7.1" text-anchor="middle" textLength="18.5" lengthAdjust="spacingAndGlyphs">0.6009</text>
<text x="421.5" y="399" font-size="15">I.</text>
<path d="M462 406.3V531.6H554.7" fill="none" stroke="#000" stroke-width="1.5" stroke-linejoin="miter"/>
<line x1="458.2" y1="531.6" x2="462" y2="531.6" stroke="#000" stroke-width="1.2"/>
<text x="456.6" y="534.4" font-size="8.3" text-anchor="end" font-weight="bold" textLength="3.73" lengthAdjust="spacingAndGlyphs">0</text>
<line x1="458.2" y1="489.83" x2="462" y2="489.83" stroke="#000" stroke-width="1.2"/>
<text x="456.6" y="492.63" font-size="8.3" text-anchor="end" font-weight="bold" textLength="7.45" lengthAdjust="spacingAndGlyphs">10</text>
<line x1="458.2" y1="448.06" x2="462" y2="448.06" stroke="#000" stroke-width="1.2"/>
<text x="456.6" y="450.86" font-size="8.3" text-anchor="end" font-weight="bold" textLength="7.45" lengthAdjust="spacingAndGlyphs">20</text>
<line x1="458.2" y1="406.29" x2="462" y2="406.29" stroke="#000" stroke-width="1.2"/>
<text x="456.6" y="409.09" font-size="8.3" text-anchor="end" font-weight="bold" textLength="7.45" lengthAdjust="spacingAndGlyphs">30</text>
<rect x="466.3" y="480.9" width="17" height="50.7" fill="#fff" stroke="#000" stroke-width="1.2"/>
<line x1="474.8" y1="476.8" x2="474.8" y2="485" stroke="#000" stroke-width="1.1"/>
<line x1="470.81" y1="476.8" x2="478.8" y2="476.8" stroke="#000" stroke-width="1.1"/>
<line x1="470.81" y1="485" x2="478.8" y2="485" stroke="#000" stroke-width="1.1"/>
<g fill="#fff" stroke="#000" stroke-width="0.75">
<circle cx="468.5" cy="465.8" r="2.3"/>
<circle cx="468.5" cy="469.4" r="2.3"/>
<circle cx="474.7" cy="468.3" r="2.3"/>
<circle cx="480.7" cy="469.4" r="2.3"/>
<circle cx="468.5" cy="472.3" r="2.3"/>
<circle cx="474.7" cy="473.7" r="2.3"/>
<circle cx="468.5" cy="476.3" r="2.3"/>
<circle cx="474.7" cy="478.8" r="2.3"/>
<circle cx="480.7" cy="476.3" r="2.3"/>
<circle cx="474.7" cy="487.9" r="2.3"/>
<circle cx="471.4" cy="507.2" r="2.3"/>
<circle cx="478.1" cy="507.2" r="2.3"/>
</g>
<text x="474.8" y="539.2" font-size="7.1" text-anchor="middle" font-weight="bold">C</text>
<rect x="489.1" y="501.2" width="16.9" height="30.4" fill="#0a4e95" stroke="#000" stroke-width="1.2"/>
<line x1="497.55" y1="497" x2="497.55" y2="505.4" stroke="#000" stroke-width="1.1"/>
<line x1="493.58" y1="497" x2="501.52" y2="497" stroke="#000" stroke-width="1.1"/>
<line x1="493.58" y1="505.4" x2="501.52" y2="505.4" stroke="#000" stroke-width="1.1"/>
<g fill="#fff" stroke="#000" stroke-width="0.75">
<circle cx="497.3" cy="469.4" r="2.3"/>
<circle cx="497.3" cy="482.1" r="2.3"/>
<circle cx="499.5" cy="493.9" r="2.3"/>
<circle cx="495.1" cy="496.8" r="2.3"/>
<circle cx="490.8" cy="504.7" r="2.3"/>
<circle cx="495.1" cy="503.7" r="2.3"/>
<circle cx="499.8" cy="503.7" r="2.3"/>
<circle cx="503.8" cy="503.3" r="2.3"/>
<circle cx="495.1" cy="513.4" r="2.3"/>
<circle cx="499.5" cy="517.7" r="2.3"/>
<circle cx="495.1" cy="520.1" r="2.3"/>
</g>
<text x="497.55" y="539.2" font-size="7.1" text-anchor="middle" font-weight="bold">S</text>
<rect x="511.5" y="476.3" width="16.4" height="55.3" fill="#a2361a" stroke="#000" stroke-width="1.2"/>
<line x1="519.7" y1="469.4" x2="519.7" y2="482.1" stroke="#000" stroke-width="1.1"/>
<line x1="515.85" y1="469.4" x2="523.55" y2="469.4" stroke="#000" stroke-width="1.1"/>
<line x1="515.85" y1="482.1" x2="523.55" y2="482.1" stroke="#000" stroke-width="1.1"/>
<g fill="#fff" stroke="#000" stroke-width="0.75">
<circle cx="513.4" cy="459.6" r="2.3"/>
<circle cx="519.7" cy="464.8" r="2.3"/>
<circle cx="526.3" cy="462.9" r="2.3"/>
<circle cx="513.4" cy="467.2" r="2.3"/>
<circle cx="526.3" cy="468.3" r="2.3"/>
<circle cx="519.7" cy="472" r="2.3"/>
<circle cx="519.7" cy="500.8" r="2.3"/>
<circle cx="519.7" cy="508.6" r="2.3"/>
</g>
<text x="519.7" y="539.2" font-size="7.1" text-anchor="middle" font-weight="bold">S-F</text>
<rect x="534.1" y="496.1" width="16.3" height="35.5" fill="#4b8b0b" stroke="#000" stroke-width="1.2"/>
<line x1="542.25" y1="492.8" x2="542.25" y2="499.4" stroke="#000" stroke-width="1.1"/>
<line x1="538.42" y1="492.8" x2="546.08" y2="492.8" stroke="#000" stroke-width="1.1"/>
<line x1="538.42" y1="499.4" x2="546.08" y2="499.4" stroke="#000" stroke-width="1.1"/>
<g fill="#fff" stroke="#000" stroke-width="0.75">
<circle cx="536" cy="485.5" r="2.3"/>
<circle cx="536" cy="490.7" r="2.3"/>
<circle cx="548.5" cy="489.3" r="2.3"/>
<circle cx="548.5" cy="494.2" r="2.3"/>
<circle cx="536" cy="499" r="2.3"/>
<circle cx="548.5" cy="501.1" r="2.3"/>
<circle cx="536" cy="504.7" r="2.3"/>
</g>
<text x="542.25" y="539.2" font-size="7.1" text-anchor="middle" font-weight="bold">S-F-S</text>
<text x="434.3" y="469.4" font-size="7.5" text-anchor="middle" font-weight="bold" textLength="102.2" lengthAdjust="spacingAndGlyphs" transform="rotate(-90 434.3 469.4)">Monocyte CD115 expression</text>
<text x="442.2" y="469.6" font-size="8" text-anchor="middle" font-weight="bold" textLength="37.5" lengthAdjust="spacingAndGlyphs" transform="rotate(-90 442.2 469.6)">(MFI x10<tspan font-size="5" dy="-3">3</tspan><tspan dy="3">)</tspan></text>
<path d="M474.8 436.6V412.4H542.4V436.6" fill="none" stroke="#000" stroke-width="1.15" stroke-linejoin="miter"/>
<text x="508.6" y="407.8" font-size="7.1" text-anchor="middle" textLength="19" lengthAdjust="spacingAndGlyphs">0.1765</text>
<path d="M497.4 436.6V430.5H519.6V436.6" fill="none" stroke="#000" stroke-width="1.15" stroke-linejoin="miter"/>
<text x="508.5" y="426.5" font-size="7.1" text-anchor="middle" textLength="19" lengthAdjust="spacingAndGlyphs">0.0039</text>
<path d="M474.8 460.6V448.8H497.4V466.9" fill="none" stroke="#000" stroke-width="1.15" stroke-linejoin="miter"/>
<text x="486.1" y="444.8" font-size="7.1" text-anchor="middle" textLength="19" lengthAdjust="spacingAndGlyphs">0.0123</text>
<path d="M519.6 454.5V448.8H542.4V479.5" fill="none" stroke="#000" stroke-width="1.15" stroke-linejoin="miter"/>
<text x="531" y="444.8" font-size="7.1" text-anchor="middle" textLength="19" lengthAdjust="spacingAndGlyphs">0.0639</text>
<text x="556" y="398.9" font-size="15">J.</text>
<path d="M591 406.3V531.2H684" fill="none" stroke="#000" stroke-width="1.5" stroke-linejoin="miter"/>
<line x1="587.2" y1="531.2" x2="591" y2="531.2" stroke="#000" stroke-width="1.2"/>
<text x="586.8" y="534" font-size="8.3" text-anchor="end" font-weight="bold" textLength="3.73" lengthAdjust="spacingAndGlyphs">0</text>
<line x1="587.2" y1="499.98" x2="591" y2="499.98" stroke="#000" stroke-width="1.2"/>
<text x="586.8" y="502.78" font-size="8.3" text-anchor="end" font-weight="bold" textLength="3.73" lengthAdjust="spacingAndGlyphs">1</text>
<line x1="587.2" y1="468.76" x2="591" y2="468.76" stroke="#000" stroke-width="1.2"/>
<text x="586.8" y="471.56" font-size="8.3" text-anchor="end" font-weight="bold" textLength="3.73" lengthAdjust="spacingAndGlyphs">2</text>
<line x1="587.2" y1="437.54" x2="591" y2="437.54" stroke="#000" stroke-width="1.2"/>
<text x="586.8" y="440.34" font-size="8.3" text-anchor="end" font-weight="bold" textLength="3.73" lengthAdjust="spacingAndGlyphs">3</text>
<line x1="587.2" y1="406.32" x2="591" y2="406.32" stroke="#000" stroke-width="1.2"/>
<text x="586.8" y="409.12" font-size="8.3" text-anchor="end" font-weight="bold" textLength="3.73" lengthAdjust="spacingAndGlyphs">4</text>
<rect x="595.4" y="473.2" width="16.7" height="58" fill="#fff" stroke="#000" stroke-width="1.2"/>
<line x1="603.75" y1="466.5" x2="603.75" y2="479.4" stroke="#000" stroke-width="1.1"/>
<line x1="599.83" y1="466.5" x2="607.67" y2="466.5" stroke="#000" stroke-width="1.1"/>
<line x1="599.83" y1="479.4" x2="607.67" y2="479.4" stroke="#000" stroke-width="1.1"/>
<g fill="#fff" stroke="#000" stroke-width="0.75">
<circle cx="603.9" cy="441" r="2.3"/>
<circle cx="610.4" cy="436.6" r="2.3"/>
<circle cx="603.7" cy="461.9" r="2.3"/>
<circle cx="597.3" cy="465.5" r="2.3"/>
<circle cx="597.3" cy="472.3" r="2.3"/>
<circle cx="603.7" cy="470.4" r="2.3"/>
<circle cx="610.2" cy="470.4" r="2.3"/>
<circle cx="600.5" cy="476.5" r="2.3"/>
<circle cx="603.7" cy="478.9" r="2.3"/>
<circle cx="610.2" cy="477.2" r="2.3"/>
<circle cx="603.7" cy="490.3" r="2.3"/>
<circle cx="603.7" cy="498.3" r="2.3"/>
<circle cx="603.7" cy="513.6" r="2.3"/>
</g>
<text x="603.75" y="538.6" font-size="7.1" text-anchor="middle" font-weight="bold">C</text>
<rect x="618.1" y="497" width="16.5" height="34.2" fill="#0a4e95" stroke="#000" stroke-width="1.2"/>
<line x1="626.35" y1="492.9" x2="626.35" y2="500.1" stroke="#000" stroke-width="1.1"/>
<line x1="622.47" y1="492.9" x2="630.23" y2="492.9" stroke="#000" stroke-width="1.1"/>
<line x1="622.47" y1="500.1" x2="630.23" y2="500.1" stroke="#000" stroke-width="1.1"/>
<g fill="#fff" stroke="#000" stroke-width="0.75">
<circle cx="626.1" cy="469.6" r="2.3"/>
<circle cx="624" cy="485.4" r="2.3"/>
<circle cx="628.4" cy="483.7" r="2.3"/>
<circle cx="623.1" cy="494.2" r="2.3"/>
<circle cx="628.9" cy="492.7" r="2.3"/>
<circle cx="620.6" cy="500" r="2.3"/>
<circle cx="624" cy="501.9" r="2.3"/>
<circle cx="628.4" cy="504.4" r="2.3"/>
<circle cx="632" cy="504.9" r="2.3"/>
<circle cx="626" cy="511.2" r="2.3"/>
<circle cx="620.6" cy="503.2" r="2.3"/>
</g>
<text x="626.35" y="538.6" font-size="7.1" text-anchor="middle" font-weight="bold">S</text>
<rect x="640.4" y="477.3" width="16.6" height="53.9" fill="#a2361a" stroke="#000" stroke-width="1.2"/>
<line x1="648.7" y1="468.4" x2="648.7" y2="485.2" stroke="#000" stroke-width="1.1"/>
<line x1="644.8" y1="468.4" x2="652.6" y2="468.4" stroke="#000" stroke-width="1.1"/>
<line x1="644.8" y1="485.2" x2="652.6" y2="485.2" stroke="#000" stroke-width="1.1"/>
<g fill="#fff" stroke="#000" stroke-width="0.75">
<circle cx="645.6" cy="431.7" r="2.3"/>
<circle cx="651.8" cy="429.6" r="2.3"/>
<circle cx="648.5" cy="440.1" r="2.3"/>
<circle cx="642.5" cy="477.3" r="2.3"/>
<circle cx="648.7" cy="476.3" r="2.3"/>
<circle cx="654.9" cy="480.4" r="2.3"/>
<circle cx="642.5" cy="487.3" r="2.3"/>
<circle cx="648.7" cy="489.3" r="2.3"/>
<circle cx="648.7" cy="507.4" r="2.3"/>
<circle cx="654.9" cy="508.8" r="2.3"/>
<circle cx="642.5" cy="512.6" r="2.3"/>
</g>
<text x="648.7" y="538.6" font-size="7.1" text-anchor="middle" font-weight="bold">S-F</text>
<rect x="663" y="493.9" width="16.6" height="37.3" fill="#4b8b0b" stroke="#000" stroke-width="1.2"/>
<line x1="671.3" y1="486.6" x2="671.3" y2="500.1" stroke="#000" stroke-width="1.1"/>
<line x1="667.4" y1="486.6" x2="675.2" y2="486.6" stroke="#000" stroke-width="1.1"/>
<line x1="667.4" y1="500.1" x2="675.2" y2="500.1" stroke="#000" stroke-width="1.1"/>
<g fill="#fff" stroke="#000" stroke-width="0.75">
<circle cx="671.2" cy="450.7" r="2.3"/>
<circle cx="671.2" cy="460.9" r="2.3"/>
<circle cx="672.8" cy="472.2" r="2.3"/>
<circle cx="668.8" cy="473.9" r="2.3"/>
<circle cx="669.9" cy="496" r="2.3"/>
<circle cx="673.6" cy="496" r="2.3"/>
<circle cx="669.9" cy="501.8" r="2.3"/>
<circle cx="672" cy="505.9" r="2.3"/>
<circle cx="665.3" cy="516.7" r="2.3"/>
<circle cx="673" cy="516.7" r="2.3"/>
<circle cx="677.1" cy="513.6" r="2.3"/>
</g>
<text x="671.3" y="538.6" font-size="7.1" text-anchor="middle" font-weight="bold">S-F-S</text>
<text x="577" y="469.5" font-size="7.5" text-anchor="middle" font-weight="bold" textLength="103" lengthAdjust="spacingAndGlyphs" transform="rotate(-90 577 469.5)">Spleen monocytes (x10<tspan font-size="5" dy="-3">4</tspan><tspan dy="3">/mg)</tspan></text>
<path d="M626.1 406.1V400.7H648.5V406.1" fill="none" stroke="#000" stroke-width="1.15" stroke-linejoin="miter"/>
<text x="637.3" y="396.7" font-size="7.1" text-anchor="middle" textLength="19" lengthAdjust="spacingAndGlyphs">0.1270</text>
<path d="M603.9 431.2V419H626.1V464.5" fill="none" stroke="#000" stroke-width="1.15" stroke-linejoin="miter"/>
<text x="615" y="415" font-size="7.1" text-anchor="middle" textLength="19" lengthAdjust="spacingAndGlyphs">0.0480</text>
<path d="M648.5 424.7V419H671.2V445" fill="none" stroke="#000" stroke-width="1.15" stroke-linejoin="miter"/>
<text x="659.85" y="415" font-size="7.1" text-anchor="middle" textLength="19" lengthAdjust="spacingAndGlyphs">0.2791</text>
</svg>
</body></html>
